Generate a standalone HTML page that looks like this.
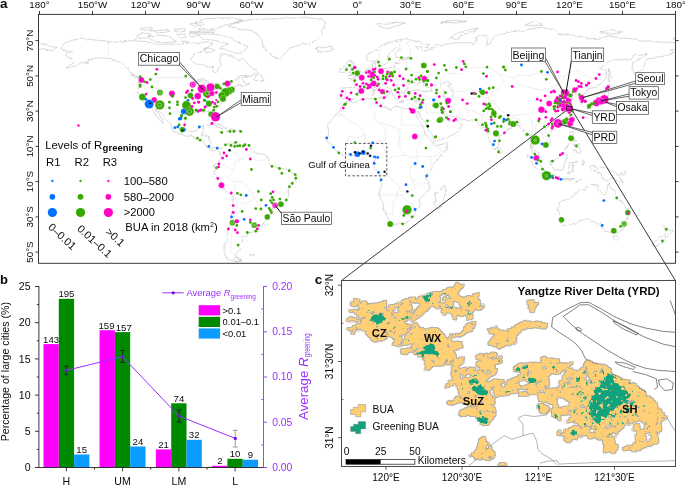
<!DOCTYPE html>
<html lang="en"><head><meta charset="utf-8"><title>Urban greening</title>
<style>html,body{margin:0;padding:0;background:#fff}svg{display:block}text{font-family:"Liberation Sans",Arial,Helvetica,sans-serif;fill:#0a0a0a}</style></head><body>
<svg width="685" height="486" viewBox="0 0 685 486">
<rect width="685" height="486" fill="#fff"/>
<defs><clipPath id="ca"><rect x="38.5" y="14.4" width="637" height="248.9"/></clipPath>
<filter id="rough" x="330" y="270" width="355" height="210" filterUnits="userSpaceOnUse" color-interpolation-filters="sRGB"><feTurbulence type="fractalNoise" baseFrequency="0.11" numOctaves="3" seed="4" result="n"/><feDisplacementMap in="SourceGraphic" in2="n" scale="5" xChannelSelector="R" yChannelSelector="G" result="d0"/><feTurbulence type="fractalNoise" baseFrequency="0.2" numOctaves="2" seed="21" result="hn"/><feColorMatrix in="hn" type="matrix" values="0 0 0 0 0  0 0 0 0 0  0 0 0 0 0  0 18 0 0 -5.5" result="hm"/><feComposite in="d0" in2="hm" operator="in" result="d"/><feMorphology in="d" operator="dilate" radius="1" result="dl"/><feFlood flood-color="#6e6452" flood-opacity="0.5"/><feComposite in2="dl" operator="in" result="edge"/><feMerge><feMergeNode in="edge"/><feMergeNode in="d"/></feMerge></filter>
<filter id="rough2" x="330" y="270" width="355" height="210" filterUnits="userSpaceOnUse" color-interpolation-filters="sRGB"><feTurbulence type="fractalNoise" baseFrequency="0.22" numOctaves="3" seed="9" result="n"/><feDisplacementMap in="SourceGraphic" in2="n" scale="7" xChannelSelector="R" yChannelSelector="G" result="d"/><feTurbulence type="fractalNoise" baseFrequency="0.24" numOctaves="2" seed="2" result="n2"/><feColorMatrix in="n2" type="matrix" values="0 0 0 0 0  0 0 0 0 0  0 0 0 0 0  16 0 0 0 -5.2" result="sp"/><feComposite in="d" in2="sp" operator="in"/></filter>
<filter id="rough3" x="330" y="270" width="355" height="210" filterUnits="userSpaceOnUse" color-interpolation-filters="sRGB"><feTurbulence type="fractalNoise" baseFrequency="0.25" numOctaves="3" seed="5" result="n"/><feDisplacementMap in="SourceGraphic" in2="n" scale="5" xChannelSelector="R" yChannelSelector="G"/></filter>
<filter id="jag" x="30" y="10" width="650" height="260" filterUnits="userSpaceOnUse"><feTurbulence type="fractalNoise" baseFrequency="0.18" numOctaves="3" seed="8" result="n"/><feDisplacementMap in="SourceGraphic" in2="n" scale="3.2" xChannelSelector="R" yChannelSelector="G"/></filter>
<clipPath id="cc"><rect x="341.5" y="280.5" width="334" height="186"/></clipPath></defs>
<g id="panel-a">
<g clip-path="url(#ca)"><g filter="url(#jag)" fill="none" stroke="#b8b8b8" stroke-width="0.55" stroke-linejoin="round">
<path d="M60.7 48.6 L64.2 43.3 L71.3 40.6 L81.9 38.3 L92.5 39.7 L108.4 41.3 L119.0 42.4 L131.4 40.6 L145.5 41.5 L154.3 44.2 L166.7 44.2 L180.8 44.2 L189.7 42.4 L198.5 43.3 L207.3 41.5 L212.6 44.2 L207.3 47.7 L202.0 51.2 L193.2 54.7 L190.5 60.0 L195.0 63.5 L203.8 65.3 L212.6 67.1 L212.6 71.5 L217.0 73.2 L217.9 68.8 L221.5 65.3 L219.7 60.9 L220.6 56.5 L219.7 53.8 L226.8 54.2 L233.8 56.5 L239.1 60.9 L242.7 58.2 L248.8 65.3 L255.9 69.7 L258.6 72.4 L251.5 75.9 L240.9 75.5 L235.6 78.5 L242.7 78.5 L243.5 82.0 L249.7 83.8 L241.8 86.8 L239.1 84.7 L233.8 87.3 L232.9 90.0 L226.8 92.6 L224.1 97.0 L223.2 102.3 L217.9 105.8 L214.4 109.4 L215.8 116.4 L215.3 119.6 L212.6 116.4 L211.2 112.0 L207.3 111.5 L200.3 110.8 L198.5 112.9 L191.4 112.0 L186.1 114.7 L185.2 119.9 L184.7 125.2 L187.9 130.5 L191.4 131.7 L196.7 130.9 L198.0 127.0 L203.8 126.3 L202.9 131.4 L201.1 135.8 L209.1 136.2 L210.3 142.8 L209.6 145.5 L212.6 148.1 L217.0 147.3 L220.9 149.0 L225.0 145.0 L230.3 142.8 L233.8 143.2 L237.4 145.1 L244.4 145.5 L248.0 145.5 L251.5 149.0 L256.8 153.4 L263.9 154.3 L267.4 156.9 L269.2 162.2 L272.7 165.8 L279.8 168.4 L286.8 169.3 L292.1 172.8 L295.7 175.5 L295.7 179.9 L291.2 185.2 L288.6 189.6 L288.6 195.7 L285.1 202.8 L279.8 204.5 L272.7 208.9 L271.8 213.3 L267.4 218.6 L263.0 223.9 L258.6 225.7 L255.9 229.2 L255.0 231.9 L248.0 232.7 L247.1 236.3 L242.7 236.3 L242.7 240.7 L238.2 245.1 L240.9 248.6 L235.6 253.9 L236.5 257.4 L240.9 260.9 L233.8 261.8 L226.8 257.4 L224.1 252.1 L224.1 246.0 L228.5 238.0 L227.6 230.1 L231.2 222.2 L231.2 215.1 L232.9 206.3 L233.3 196.6 L228.5 193.1 L222.7 188.7 L220.6 183.4 L217.0 177.2 L213.9 172.8 L216.2 169.3 L214.4 165.8 L217.0 162.2 L218.8 159.6 L220.9 156.9 L220.6 151.7 L217.0 148.7 L215.3 151.1 L210.9 149.4 L206.4 146.4 L202.9 141.1 L195.8 139.3 L191.4 135.8 L186.1 136.2 L179.1 133.5 L172.0 129.6 L171.1 125.2 L166.7 119.9 L163.2 115.5 L158.7 111.1 L154.9 108.5 L157.9 112.9 L161.4 118.2 L163.7 123.5 L159.6 119.9 L155.2 114.7 L152.6 110.2 L150.4 106.4 L144.6 103.2 L142.0 98.8 L138.4 93.0 L138.4 88.2 L138.4 82.0 L140.2 78.9 L135.8 75.9 L131.4 72.4 L126.9 67.9 L122.5 63.5 L116.3 60.9 L110.2 58.6 L101.3 57.7 L94.3 58.2 L89.0 60.0 L85.4 62.7 L78.4 64.4 L71.3 67.1 L66.0 67.9 L74.8 61.8 L71.3 59.1 L66.0 55.6 L66.9 53.0 L73.1 51.2 L64.2 49.8 L60.7 48.6"/>
<path d="M228.5 25.6 L237.4 22.1 L251.5 19.5 L278.0 18.6 L304.5 17.2 L322.2 19.5 L325.7 23.9 L322.2 30.1 L322.2 35.3 L316.9 39.7 L309.8 43.3 L299.2 45.0 L290.4 48.0 L285.1 53.0 L281.5 58.2 L272.7 56.5 L267.4 51.2 L263.0 45.9 L262.1 40.6 L258.6 35.3 L251.5 30.4 L237.4 29.2 L228.5 25.6"/>
<path d="M216.2 34.5 L225.0 36.2 L233.8 39.7 L239.1 43.3 L248.0 46.8 L242.7 53.0 L233.8 53.0 L226.8 50.3 L219.7 48.6 L228.5 44.2 L216.2 40.6 L202.0 38.9 L198.5 34.5 L207.3 33.9 L216.2 34.5"/>
<path d="M149.0 36.2 L163.2 35.3 L172.0 38.0 L177.3 41.5 L166.7 42.7 L154.3 41.5 L149.0 38.9 L149.0 36.2"/>
<path d="M198.5 29.2 L216.2 29.5 L223.2 25.6 L242.7 20.4 L233.8 17.7 L207.3 18.6 L195.0 22.1 L202.0 26.5 L198.5 29.2"/>
<path d="M136.7 37.1 L145.5 38.3 L150.8 34.5 L142.0 32.7 L136.7 37.1"/>
<path d="M189.7 31.8 L212.6 30.9 L214.4 32.5 L195.0 32.7 L189.7 31.8"/>
<path d="M150.8 30.9 L166.7 30.1 L170.2 31.8 L159.6 32.7 L150.8 30.9"/>
<path d="M253.3 79.9 L258.6 73.2 L263.9 79.4 L263.0 81.7 L258.6 81.2 L253.3 79.9"/>
<path d="M341.6 98.8 L340.7 95.3 L342.0 90.9 L341.2 88.2 L348.7 87.3 L354.3 87.5 L355.4 82.9 L352.2 80.3 L349.2 78.7 L354.8 78.2 L354.3 76.4 L357.9 76.8 L360.3 74.5 L363.7 73.4 L365.5 70.6 L369.9 69.7 L372.5 68.8 L372.5 63.5 L376.1 62.3 L375.2 66.2 L376.9 68.8 L382.2 68.8 L390.2 67.6 L394.6 67.1 L394.6 63.5 L399.9 63.2 L399.0 60.0 L407.0 59.1 L410.5 58.2 L401.7 57.9 L396.4 57.4 L395.1 53.8 L400.8 49.4 L396.4 48.2 L389.3 53.0 L387.5 56.5 L390.2 58.2 L386.7 63.5 L383.1 65.3 L380.5 66.2 L378.7 63.5 L376.9 60.0 L371.6 61.8 L367.2 60.0 L366.3 55.6 L369.9 53.0 L376.9 50.3 L382.2 45.0 L388.4 42.4 L394.6 40.6 L403.4 38.9 L412.3 40.1 L415.8 41.9 L429.9 45.0 L428.2 47.7 L419.3 46.8 L415.8 46.8 L419.3 50.3 L422.9 51.2 L428.2 50.0 L435.2 47.1 L435.2 43.3 L440.5 45.9 L451.1 43.3 L463.5 42.4 L474.1 43.3 L477.6 40.6 L475.9 37.1 L484.7 35.3 L488.2 38.9 L486.5 44.2 L490.0 44.2 L493.5 37.1 L500.6 34.5 L511.2 31.8 L525.3 30.1 L541.2 27.2 L555.4 30.1 L557.1 33.6 L573.0 35.3 L583.6 37.1 L587.2 38.9 L601.3 38.0 L608.4 35.9 L622.5 38.0 L636.6 39.2 L640.2 41.2 L654.3 40.6 L659.6 42.4 L672.0 42.0 L675.5 43.3"/>
<path d="M39.5 43.3 L48.3 45.9 L57.2 47.7 L51.9 50.7 L43.0 48.6 L39.5 49.4"/>
<path d="M675.5 49.4 L670.2 50.0 L673.7 53.8 L664.9 55.3 L657.8 58.2 L647.2 58.6 L645.5 62.7 L643.7 67.1 L640.2 70.6 L634.3 74.1 L632.2 67.1 L632.6 62.7 L641.9 58.2 L647.2 53.8 L640.2 55.3 L633.1 55.6 L631.3 60.0 L624.3 60.0 L613.7 59.5 L606.6 62.7 L599.5 68.8 L604.8 69.7 L606.6 72.4 L605.7 78.5 L601.3 82.9 L596.0 87.3 L590.7 88.2 L587.2 89.1 L586.3 92.6 L582.8 94.4 L585.9 98.8 L585.4 102.0 L581.0 103.4 L580.5 98.8 L578.3 97.0 L578.3 94.0 L573.0 92.6 L571.8 95.3 L566.0 95.3 L567.7 98.3 L573.9 98.4 L568.6 102.3 L570.4 105.8 L573.0 109.4 L572.2 113.8 L568.6 119.1 L564.2 122.6 L558.9 124.7 L552.7 126.6 L549.2 125.8 L545.7 128.8 L544.2 130.9 L549.5 136.7 L550.6 142.8 L546.5 145.5 L543.0 148.7 L543.0 145.8 L538.6 142.8 L535.1 140.2 L533.3 144.6 L532.9 148.1 L537.7 153.4 L540.4 156.9 L541.6 161.5 L536.8 159.2 L534.7 153.4 L531.2 149.0 L531.7 142.8 L529.8 134.9 L526.2 136.2 L524.1 131.4 L520.0 126.1 L517.4 124.3 L513.0 125.8 L510.3 128.8 L505.9 131.7 L499.4 136.7 L498.8 141.1 L498.5 145.8 L494.4 149.7 L491.8 146.4 L489.1 139.3 L486.5 133.2 L486.1 127.0 L481.2 127.3 L479.4 124.7 L475.9 120.3 L467.0 119.6 L459.1 118.7 L457.3 116.4 L452.9 117.1 L447.6 114.7 L445.8 111.1 L442.3 111.1 L445.8 117.3 L448.5 120.8 L452.9 121.3 L456.4 118.2 L457.3 120.8 L461.7 124.3 L459.1 130.5 L454.7 134.0 L449.4 135.8 L442.3 139.3 L434.4 141.6 L432.6 135.8 L428.2 128.8 L425.5 123.5 L419.3 114.7 L419.0 112.0 L415.8 114.7 L420.2 121.7 L422.9 127.0 L424.6 132.3 L428.2 137.6 L433.5 142.8 L436.1 145.5 L447.6 143.2 L445.8 149.9 L440.5 156.9 L431.7 166.6 L428.2 172.8 L426.4 178.1 L429.1 183.4 L429.1 190.4 L422.9 195.7 L419.3 199.2 L420.2 206.3 L415.4 209.8 L414.9 214.2 L410.5 219.5 L405.2 223.4 L398.1 223.9 L392.8 225.3 L389.8 223.9 L389.3 220.4 L384.0 211.6 L383.1 202.8 L378.7 194.8 L381.4 186.0 L380.5 179.0 L378.7 172.8 L374.3 167.5 L374.3 162.2 L374.8 157.8 L372.5 156.1 L367.2 156.4 L364.6 152.9 L359.3 153.4 L354.0 155.5 L348.7 154.8 L344.2 156.2 L339.8 153.4 L334.5 149.0 L331.0 144.6 L327.5 140.2 L326.6 138.1 L328.3 134.9 L328.7 129.6 L327.5 127.0 L331.0 121.7 L334.5 115.5 L339.8 112.0 L340.4 108.5 L345.1 104.4 L346.9 100.9 L354.0 102.0 L362.8 99.1 L369.9 98.8 L375.2 98.4 L376.9 102.3 L375.5 104.1 L378.7 106.2 L384.5 107.1 L391.1 110.6 L392.8 107.6 L398.1 106.4 L405.2 108.8 L410.5 108.8 L414.6 109.0 L418.1 108.8 L419.3 105.8 L421.1 100.6 L421.1 99.1 L415.8 100.2 L411.4 99.7 L407.0 99.3 L404.3 96.1 L404.0 93.5 L408.7 91.7 L414.0 90.3 L419.3 90.0 L423.8 91.7 L430.8 90.9 L429.9 88.2 L424.6 85.6 L422.9 84.2 L426.4 81.2 L419.3 82.9 L416.7 85.6 L414.0 82.4 L410.5 82.9 L407.9 86.5 L407.0 90.0 L403.4 92.1 L399.0 92.6 L399.9 97.0 L398.1 99.7 L395.5 98.8 L392.8 94.4 L392.0 90.9 L389.3 88.6 L384.0 85.0 L381.7 83.6 L379.2 84.7 L379.6 86.5 L382.2 90.0 L385.8 90.5 L390.2 93.1 L387.5 95.3 L385.8 97.0 L385.2 93.5 L381.4 91.4 L376.9 89.1 L375.2 86.5 L371.6 86.1 L368.1 88.0 L363.7 87.7 L362.8 90.0 L358.4 92.6 L356.6 96.1 L354.0 99.1 L348.7 100.2 L346.0 98.8 L341.6 98.8"/>
<path d="M440.5 84.7 L445.0 82.0 L448.5 81.2 L451.1 84.7 L447.6 85.6 L451.1 90.0 L452.9 93.5 L452.0 98.8 L446.7 98.8 L444.1 96.1 L445.0 92.6 L441.4 88.2 L440.5 84.7"/>
<path d="M347.8 75.9 L352.2 75.0 L359.3 74.1 L360.3 70.9 L357.5 69.7 L354.8 67.1 L354.0 65.3 L354.3 62.7 L350.4 62.3 L352.2 60.7 L348.7 60.7 L346.5 63.5 L348.7 66.2 L352.2 67.4 L352.2 69.7 L349.5 70.2 L350.1 71.8 L348.3 72.7 L352.2 73.4 L347.8 75.9"/>
<path d="M339.8 72.4 L346.4 72.0 L346.9 69.7 L347.8 67.9 L344.2 66.5 L339.8 68.8 L339.8 72.4"/>
<path d="M315.1 48.6 L318.6 47.0 L325.7 47.3 L331.9 47.7 L333.6 49.4 L329.2 51.2 L323.9 52.3 L317.7 51.4 L318.6 49.4 L315.1 48.6"/>
<path d="M376.9 24.8 L385.8 23.0 L396.4 22.5 L405.2 23.0 L394.6 26.2 L387.5 28.8 L382.2 27.4 L376.9 24.8"/>
<path d="M449.4 38.9 L454.7 34.5 L463.5 30.9 L477.6 28.3 L474.1 30.9 L460.0 35.3 L458.2 39.4 L449.4 38.9"/>
<path d="M525.3 24.8 L534.2 21.2 L543.0 24.8 L534.2 26.5 L525.3 24.8"/>
<path d="M599.5 31.8 L613.7 30.1 L622.5 31.8 L610.1 34.5 L599.5 31.8"/>
<path d="M608.4 68.3 L610.1 72.4 L611.0 76.8 L609.6 82.0 L608.4 79.4 L608.4 74.1 L608.4 68.3"/>
<path d="M587.2 105.8 L588.9 108.8 L590.7 105.0 L596.0 104.6 L599.5 103.0 L603.1 102.3 L606.3 100.6 L606.6 96.1 L608.4 93.5 L607.5 91.0 L604.8 91.7 L604.5 95.3 L602.2 97.9 L599.2 98.8 L597.8 100.9 L592.5 101.4 L588.9 103.5 L587.2 105.8"/>
<path d="M604.8 90.0 L607.5 88.2 L607.8 84.0 L612.8 86.5 L614.6 87.7 L610.1 90.0 L606.6 89.1 L604.8 90.0"/>
<path d="M569.9 123.5 L571.3 119.6 L573.0 119.9 L572.2 123.5 L570.9 125.2 L569.9 123.5"/>
<path d="M549.5 130.2 L552.7 128.8 L553.6 129.6 L551.0 131.7 L549.5 130.2"/>
<path d="M569.5 135.8 L570.4 131.4 L573.6 131.7 L573.0 135.8 L576.6 141.1 L573.0 139.7 L570.7 138.4 L569.5 135.8"/>
<path d="M573.0 151.7 L575.7 148.7 L579.2 146.9 L581.0 151.7 L579.2 153.8 L576.6 151.7 L573.0 151.7"/>
<path d="M550.1 161.4 L553.6 160.8 L557.1 158.7 L560.7 155.2 L564.2 151.7 L567.7 155.2 L566.0 160.5 L565.1 164.0 L562.4 170.2 L558.9 170.2 L554.5 169.3 L551.8 166.6 L550.1 161.4"/>
<path d="M525.9 154.3 L530.6 156.9 L535.1 160.5 L540.4 165.8 L544.8 170.2 L544.4 174.2 L541.2 173.7 L535.9 168.4 L531.5 162.2 L528.0 157.8 L525.9 154.3"/>
<path d="M543.4 175.5 L548.3 175.5 L553.6 175.6 L559.8 177.2 L559.8 179.0 L551.8 178.1 L545.7 176.9 L543.4 175.5"/>
<path d="M568.6 173.7 L568.6 168.4 L569.5 162.6 L574.8 162.2 L578.3 161.4 L573.9 163.5 L571.3 165.8 L574.8 165.8 L572.2 167.5 L573.9 171.9 L571.3 171.1 L570.0 173.7 L568.6 173.7"/>
<path d="M588.9 165.8 L594.2 165.4 L596.0 169.8 L601.3 167.0 L606.6 168.6 L613.7 171.9 L618.1 174.6 L623.4 182.5 L617.2 181.3 L611.9 177.6 L608.4 180.2 L602.2 178.6 L601.3 173.7 L594.2 171.1 L591.6 168.8 L588.9 165.8"/>
<path d="M558.9 202.8 L558.0 209.8 L560.7 218.6 L560.7 224.5 L566.0 225.7 L575.7 223.9 L580.1 220.9 L588.9 219.5 L594.2 221.8 L597.8 225.7 L601.0 222.2 L601.3 226.9 L604.8 231.0 L611.0 232.4 L616.3 232.7 L622.5 229.7 L624.8 223.0 L627.8 216.9 L628.3 209.8 L624.3 205.4 L620.7 200.1 L616.0 197.5 L614.6 190.4 L611.0 188.7 L609.3 183.0 L607.5 186.9 L606.6 194.0 L604.0 194.8 L597.4 190.4 L598.7 185.2 L591.6 184.3 L587.2 186.9 L585.4 190.4 L580.1 188.7 L575.7 194.0 L573.0 196.6 L567.7 199.2 L562.4 200.7 L558.9 202.8"/>
<path d="M613.1 235.7 L619.3 235.9 L619.0 239.8 L615.4 240.8 L613.7 238.0 L613.1 235.7"/>
<path d="M662.6 224.8 L666.7 228.3 L672.9 230.4 L670.2 233.6 L667.2 237.3 L664.9 233.3 L666.3 230.1 L662.6 224.8"/>
<path d="M662.6 235.4 L665.4 237.1 L662.8 241.0 L659.6 244.2 L655.2 246.1 L651.7 244.5 L655.2 241.6 L659.6 238.0 L662.6 235.4"/>
<path d="M444.6 185.2 L446.4 191.3 L444.1 197.5 L441.4 207.2 L437.0 208.9 L434.4 204.5 L435.8 199.2 L435.2 194.0 L439.7 191.3 L444.6 185.2"/>
<path d="M498.8 146.7 L502.0 150.8 L500.6 153.4 L498.8 153.1 L498.5 149.9 L498.8 146.7"/>
<path d="M207.3 125.2 L212.6 123.1 L219.7 124.7 L226.4 128.4 L220.6 128.9 L219.7 127.0 L212.6 124.7 L207.3 125.2"/>
<path d="M226.1 131.4 L228.9 128.9 L234.7 129.6 L236.7 131.2 L232.1 132.3 L226.1 131.4"/>
<path d="M249.7 254.8 L255.0 254.6 L253.3 256.2 L249.7 255.6 L249.7 254.8"/>
<path d="M379.6 97.0 L384.9 96.7 L384.0 99.3 L379.6 97.9 L379.6 97.0"/>
<path d="M372.2 91.7 L374.6 91.7 L374.5 94.9 L372.5 95.3 L372.2 91.7"/>
<path d="M591.1 104.3 L595.1 103.7 L594.6 105.3 L592.1 106.2 L591.1 104.3"/>
<path d="M189.7 23.9 L202.0 22.1 L203.8 24.8 L195.0 26.0 L189.7 23.9"/>
<path d="M188.8 33.6 L197.6 33.6 L198.5 35.9 L190.5 37.1 L188.8 33.6"/>
<path d="M177.3 34.5 L185.2 33.9 L186.1 37.1 L179.9 38.0 L177.3 34.5"/>
<path d="M173.8 29.2 L184.4 28.8 L185.2 31.5 L177.3 31.8 L173.8 29.2"/>
<path d="M203.8 48.6 L209.1 48.0 L215.3 50.3 L212.6 52.1 L205.6 51.7 L203.8 48.6"/>
<path d="M181.7 41.5 L187.9 41.0 L188.8 43.1 L183.5 43.3 L181.7 41.5"/>
<path d="M140.2 28.3 L150.8 27.4 L153.4 29.2 L145.5 30.4 L140.2 28.3"/>
<path d="M195.0 81.7 L202.0 78.5 L207.3 80.3 L208.2 82.0 L203.8 82.0 L198.5 81.7 L195.0 81.7"/>
<path d="M202.6 90.5 L205.0 89.1 L206.4 84.7 L204.7 83.3 L202.4 86.5 L202.6 90.5"/>
<path d="M208.2 82.9 L214.4 82.9 L216.2 85.6 L213.2 87.9 L210.0 86.5 L208.2 82.9"/>
<path d="M210.3 90.5 L217.9 88.6 L216.2 89.6 L210.3 90.5"/>
<path d="M84.5 62.7 L88.4 61.8 L88.1 63.5 L84.5 62.7"/>
<path d="M130.8 74.6 L136.7 75.9 L139.3 78.5 L135.8 78.0 L130.8 74.6"/>
<path d="M243.5 76.1 L248.3 77.1 L244.4 77.3 L243.5 76.1"/>
<path d="M587.2 104.4 L590.4 104.8 L589.8 108.5 L587.7 109.0 L586.8 106.2 L587.2 104.4"/>
<path d="M399.0 101.4 L404.0 102.0 L400.8 102.3 L399.0 101.4"/>
<path d="M414.6 102.3 L418.5 101.3 L417.2 102.8 L414.6 102.3"/>
<path d="M372.7 88.4 L374.3 88.4 L373.9 91.0 L372.9 90.3 L372.7 88.4"/>
<path d="M219.2 131.6 L222.7 131.9 L221.1 132.6 L219.2 131.6"/>
<path d="M238.8 131.4 L241.4 131.6 L240.0 132.3 L238.8 131.4"/>
<path d="M236.3 256.9 L242.3 260.4 L237.4 261.3 L232.9 259.2 L236.3 256.9"/>
<path d="M575.7 182.2 L581.9 178.8 L578.3 180.4 L575.7 182.2"/>
<path d="M562.4 178.8 L567.7 178.6 L574.5 178.6 L569.5 179.7 L563.9 179.7 L562.4 178.8"/>
<path d="M582.8 160.5 L584.9 162.2 L583.6 165.4 L582.9 163.1 L582.8 160.5"/>
<path d="M564.6 149.2 L568.6 144.6 L566.9 147.8 L564.6 149.2"/>
<path d="M573.0 143.2 L576.6 144.3 L579.2 144.6 L578.0 146.4 L574.8 147.3 L573.9 145.3 L573.0 143.2"/>
<path d="M619.5 173.7 L626.0 171.4 L625.2 174.6 L620.7 174.9 L619.5 173.7"/>
<path d="M672.9 38.0 L675.5 38.5 L673.7 39.2 L672.9 38.0"/>
<path d="M440.5 22.1 L454.7 20.4 L467.0 21.2 L456.4 23.0 L440.5 22.1"/>
</g></g>
<g clip-path="url(#ca)" fill="none" stroke="#dcdcdc" stroke-width="0.45" stroke-linejoin="round">
<path d="M140.2 77.6 L189.7 77.6 L200.3 79.4 L208.2 82.0 L211.7 84.7 L211.7 89.1 L217.9 87.7 L222.3 86.5 L225.0 84.7 L231.2 84.7 L235.2 80.5 L237.7 81.2 L239.1 84.7"/>
<path d="M150.6 106.7 L161.4 108.8 L166.7 108.5 L169.3 108.0 L173.8 112.0 L179.1 111.7 L181.7 115.5 L185.8 118.4"/>
<path d="M108.4 41.3 L108.4 57.7"/>
<path d="M255.9 216.9 L262.1 208.9 L255.0 199.2 L251.5 192.2 L242.7 181.6 L233.8 181.6 L227.6 177.2 L233.8 171.1 L234.7 162.2 L239.1 160.5 L244.4 156.9 L250.6 155.2 L256.8 160.5 L265.6 159.6 L266.5 156.9"/>
<path d="M234.7 194.8 L237.4 204.5 L233.8 216.9 L232.9 227.4 L231.2 238.0 L230.3 252.1 L236.5 256.5"/>
<path d="M234.7 194.8 L235.6 183.4"/>
<path d="M255.0 199.2 L247.1 202.8 L239.1 204.2"/>
<path d="M215.8 170.2 L224.1 164.4 L233.8 171.1"/>
<path d="M230.3 143.7 L229.4 150.8 L238.2 153.4 L239.1 160.5"/>
<path d="M342.1 115.2 L349.0 119.9 L359.6 127.0 L363.3 130.5 L364.9 134.9 L357.5 137.6 L347.8 136.7 L347.8 145.8"/>
<path d="M378.7 122.6 L384.0 123.5 L399.9 129.6 L399.9 136.7 L397.3 144.6"/>
<path d="M401.7 108.5 L401.7 125.2 L422.9 125.2"/>
<path d="M374.3 110.8 L375.2 120.8 L378.7 122.6 L384.9 127.0 L385.8 139.3 L381.4 140.2 L382.2 143.7 L384.9 150.8 L385.8 160.5"/>
<path d="M334.5 115.2 L342.1 115.2 L342.1 112.9"/>
<path d="M364.9 134.9 L364.6 142.8 L362.4 152.9"/>
<path d="M381.4 140.2 L364.6 142.8"/>
<path d="M385.8 160.5 L389.3 157.8 L397.3 156.1 L406.1 155.2 L412.3 157.8 L417.6 156.9 L421.1 156.1 L429.9 156.9 L431.7 166.6"/>
<path d="M399.9 136.7 L399.9 148.1 L406.1 155.2"/>
<path d="M417.6 156.9 L417.6 165.8 L410.5 166.1 L409.6 171.9 L411.4 178.6 L415.8 180.7 L418.5 184.3 L429.1 182.9"/>
<path d="M378.7 172.8 L385.8 174.6 L396.4 183.4 L399.9 186.9 L396.4 194.8 L401.7 195.4 L415.8 188.7 L411.4 178.6"/>
<path d="M378.7 194.8 L398.1 194.8 L392.8 202.8 L392.8 214.2 L386.7 214.2"/>
<path d="M401.7 195.4 L408.7 202.8 L413.2 203.5 L414.0 209.8"/>
<path d="M421.1 125.2 L425.5 132.3 L422.0 138.4 L415.8 149.9 L417.6 156.9"/>
<path d="M433.5 142.8 L431.7 144.6 L442.3 149.9 L437.0 155.2 L429.9 156.9"/>
<path d="M419.3 105.8 L426.4 105.8 L426.4 112.9 L440.5 112.9 L442.3 111.1"/>
<path d="M421.1 99.1 L431.7 98.4 L436.1 98.8 L436.1 94.0 L434.4 91.7 L430.8 90.9"/>
<path d="M436.1 98.8 L438.8 102.3 L438.8 105.8 L442.3 111.1"/>
<path d="M436.1 94.0 L442.3 94.4 L444.1 96.1"/>
<path d="M452.0 98.8 L458.2 97.0 L465.3 99.7 L465.3 109.4 L468.8 112.0 L466.2 119.6"/>
<path d="M465.3 99.7 L474.1 98.3 L482.9 97.0 L489.1 98.8 L493.5 101.4 L497.1 106.7 L500.6 110.8 L507.7 114.3 L513.0 115.0 L520.0 115.0 L528.9 114.3 L531.5 121.7 L535.9 126.1 L537.7 124.3 L543.0 123.5 L548.3 125.9"/>
<path d="M465.3 109.4 L474.1 111.5 L481.2 114.7 L482.9 120.8 L478.5 122.6"/>
<path d="M489.1 98.8 L488.2 105.8 L490.0 107.6 L486.5 114.7 L481.2 114.7"/>
<path d="M513.0 115.0 L513.0 118.2 L515.6 118.2 L520.0 119.9 L520.0 126.1"/>
<path d="M531.5 121.7 L533.3 128.8 L530.6 134.0 L532.4 142.8"/>
<path d="M535.9 126.1 L535.1 133.2 L541.2 132.3 L543.9 138.4 L538.6 142.8"/>
<path d="M541.2 132.3 L547.4 138.4 L547.4 143.7 L543.0 145.8"/>
<path d="M407.0 59.1 L406.1 65.3 L412.3 72.4 L417.6 72.4 L428.2 76.8 L428.2 80.3 L426.4 81.2"/>
<path d="M440.5 84.7 L440.5 79.4 L447.6 73.2 L461.7 74.1 L466.2 68.8 L479.4 67.1 L491.8 68.8 L498.8 74.1 L512.1 77.6 L520.0 75.0 L530.6 75.9 L537.7 73.2 L546.5 75.9 L557.1 75.9 L564.2 76.6 L569.5 71.5 L580.1 70.6 L588.1 77.6 L596.0 78.9 L588.9 84.7 L588.9 88.2 L587.2 89.1"/>
<path d="M512.1 77.6 L518.3 83.8 L525.3 86.5 L541.2 90.0 L553.6 87.3 L562.4 82.0 L564.2 76.6"/>
<path d="M448.5 81.2 L454.7 91.2 L465.3 91.7 L474.1 90.0 L481.2 91.7 L487.4 94.4 L489.1 98.8"/>
<path d="M498.8 74.1 L504.1 81.2 L498.8 89.1 L488.2 93.0 L487.4 94.4"/>
<path d="M354.3 87.5 L362.8 89.3"/>
<path d="M369.9 69.7 L368.1 74.1 L368.1 76.8 L372.0 77.6 L370.9 80.1 L368.1 82.6 L370.8 86.5"/>
<path d="M382.2 68.8 L384.0 74.1 L379.1 75.3 L381.9 78.2 L387.5 78.2 L397.3 77.6 L399.9 74.5 L399.0 69.2 L394.6 67.1"/>
<path d="M381.9 78.2 L375.2 80.3 L370.9 80.1"/>
<path d="M397.3 77.6 L396.4 79.4 L404.3 79.0 L407.3 83.8 L410.5 82.9"/>
<path d="M387.5 78.2 L386.7 81.5 L381.7 82.0 L381.7 83.6"/>
<path d="M396.4 79.4 L393.4 82.6 L397.3 85.4 L397.3 91.4 L404.0 90.5 L407.0 90.0"/>
<path d="M342.0 90.2 L346.0 90.3 L345.1 95.3 L344.4 98.4"/>
<path d="M412.3 40.1 L407.0 42.4 L410.5 49.4 L410.5 54.7 L407.0 57.4"/>
<path d="M394.6 40.6 L399.9 44.2 L399.9 47.7"/>
<path d="M377.8 60.0 L379.6 56.5 L378.7 52.1 L385.8 44.2 L392.8 42.4"/>
</g>
<rect x="345.5" y="143.4" width="41.3" height="32.4" fill="none" stroke="#333" stroke-width="0.8" stroke-dasharray="2.6 1.8"/>
<g stroke="#222" stroke-width="0.9" fill="none">
<line x1="566.7" y1="110.2" x2="341.6" y2="280.4"/>
<line x1="572.2" y1="110.2" x2="675.3" y2="280.4"/>
</g>
<g id="dots">
<circle cx="156.9" cy="69.3" r="1.40" fill="#ff00c5"/>
<circle cx="155.8" cy="74.1" r="1.40" fill="#38a800"/>
<circle cx="185.8" cy="76.1" r="1.40" fill="#38a800"/>
<circle cx="141.4" cy="79.9" r="2.90" fill="#ff00c5" stroke="#fff" stroke-width="0.35" stroke-opacity="0.75"/>
<circle cx="140.2" cy="76.7" r="1.40" fill="#38a800"/>
<circle cx="150.3" cy="79.6" r="1.40" fill="#38a800"/>
<circle cx="144.5" cy="81.8" r="1.40" fill="#38a800"/>
<circle cx="147.0" cy="82.5" r="1.40" fill="#ff00c5"/>
<circle cx="140.2" cy="84.8" r="1.40" fill="#38a800"/>
<circle cx="140.2" cy="86.4" r="1.40" fill="#38a800"/>
<circle cx="152.0" cy="86.9" r="1.40" fill="#38a800"/>
<circle cx="192.8" cy="84.6" r="3.10" fill="#ff00c5" stroke="#fff" stroke-width="0.35" stroke-opacity="0.75"/>
<circle cx="159.9" cy="92.5" r="3.10" fill="#38a800" stroke="#fff" stroke-width="0.35" stroke-opacity="0.75"/>
<circle cx="171.9" cy="93.5" r="3.10" fill="#ff00c5" stroke="#fff" stroke-width="0.35" stroke-opacity="0.75"/>
<circle cx="172.5" cy="96.0" r="1.75" fill="#38a800"/>
<circle cx="146.1" cy="94.1" r="1.40" fill="#ff00c5"/>
<circle cx="142.4" cy="97.0" r="3.50" fill="#38a800" stroke="#fff" stroke-width="0.35" stroke-opacity="0.75"/>
<circle cx="154.2" cy="100.0" r="2.90" fill="#ff00c5" stroke="#fff" stroke-width="0.35" stroke-opacity="0.75"/>
<circle cx="145.9" cy="99.3" r="1.40" fill="#0070ff"/>
<circle cx="149.2" cy="104.0" r="4.60" fill="#0070ff" stroke="#fff" stroke-width="0.35" stroke-opacity="0.75"/>
<circle cx="159.8" cy="104.9" r="4.75" fill="#38a800" stroke="#fff" stroke-width="0.35" stroke-opacity="0.75"/>
<circle cx="169.4" cy="102.2" r="1.40" fill="#38a800"/>
<circle cx="177.5" cy="101.9" r="1.40" fill="#38a800"/>
<circle cx="177.5" cy="104.7" r="1.40" fill="#38a800"/>
<circle cx="169.4" cy="107.8" r="1.40" fill="#38a800"/>
<circle cx="170.0" cy="113.6" r="1.40" fill="#38a800"/>
<circle cx="186.4" cy="92.5" r="1.40" fill="#ff00c5"/>
<circle cx="187.7" cy="91.0" r="1.40" fill="#ff00c5"/>
<circle cx="192.0" cy="90.4" r="1.40" fill="#38a800"/>
<circle cx="190.4" cy="95.4" r="2.90" fill="#38a800" stroke="#fff" stroke-width="0.35" stroke-opacity="0.75"/>
<circle cx="185.5" cy="97.6" r="1.40" fill="#38a800"/>
<circle cx="188.0" cy="100.3" r="1.40" fill="#0070ff"/>
<circle cx="192.6" cy="98.5" r="1.40" fill="#ff00c5"/>
<circle cx="197.9" cy="95.7" r="3.20" fill="#ff00c5" stroke="#fff" stroke-width="0.35" stroke-opacity="0.75"/>
<circle cx="194.3" cy="102.8" r="1.40" fill="#ff00c5"/>
<circle cx="198.6" cy="102.2" r="1.40" fill="#ff00c5"/>
<circle cx="186.4" cy="105.3" r="4.45" fill="#38a800" stroke="#fff" stroke-width="0.35" stroke-opacity="0.75"/>
<circle cx="189.5" cy="111.5" r="4.45" fill="#38a800" stroke="#fff" stroke-width="0.35" stroke-opacity="0.75"/>
<circle cx="183.6" cy="111.5" r="2.90" fill="#0070ff" stroke="#fff" stroke-width="0.35" stroke-opacity="0.75"/>
<circle cx="192.0" cy="106.5" r="1.40" fill="#ff00c5"/>
<circle cx="204.4" cy="100.3" r="1.40" fill="#38a800"/>
<circle cx="205.0" cy="107.1" r="1.40" fill="#ff00c5"/>
<circle cx="200.7" cy="110.2" r="1.40" fill="#ff00c5"/>
<circle cx="198.2" cy="111.1" r="1.40" fill="#ff00c5"/>
<circle cx="196.4" cy="110.2" r="1.40" fill="#38a800"/>
<circle cx="203.6" cy="110.2" r="1.40" fill="#38a800"/>
<circle cx="180.2" cy="118.6" r="1.80" fill="#0070ff"/>
<circle cx="185.5" cy="118.3" r="1.40" fill="#38a800"/>
<circle cx="181.5" cy="115.8" r="1.40" fill="#38a800"/>
<circle cx="206.5" cy="101.6" r="1.00" fill="#0070ff"/>
<circle cx="150.2" cy="103.2" r="1.00" fill="#000a28"/>
<circle cx="227.5" cy="83.6" r="3.10" fill="#ff00c5" stroke="#fff" stroke-width="0.35" stroke-opacity="0.75"/>
<circle cx="231.4" cy="81.3" r="1.40" fill="#38a800"/>
<circle cx="223.8" cy="83.8" r="1.40" fill="#38a800"/>
<circle cx="217.1" cy="86.3" r="2.90" fill="#38a800" stroke="#fff" stroke-width="0.35" stroke-opacity="0.75"/>
<circle cx="220.4" cy="88.2" r="1.40" fill="#38a800"/>
<circle cx="207.4" cy="93.3" r="4.45" fill="#38a800" stroke="#fff" stroke-width="0.35" stroke-opacity="0.75"/>
<circle cx="211.7" cy="93.3" r="2.90" fill="#ff00c5" stroke="#fff" stroke-width="0.35" stroke-opacity="0.75"/>
<circle cx="210.5" cy="87.3" r="4.10" fill="#ff00c5" stroke="#fff" stroke-width="0.35" stroke-opacity="0.75"/>
<circle cx="201.8" cy="88.8" r="4.30" fill="#ff00c5" stroke="#fff" stroke-width="0.35" stroke-opacity="0.75"/>
<circle cx="231.6" cy="89.8" r="3.20" fill="#38a800" stroke="#fff" stroke-width="0.35" stroke-opacity="0.75"/>
<circle cx="228.5" cy="91.0" r="3.85" fill="#38a800" stroke="#fff" stroke-width="0.35" stroke-opacity="0.75"/>
<circle cx="225.4" cy="92.5" r="4.45" fill="#38a800" stroke="#fff" stroke-width="0.35" stroke-opacity="0.75"/>
<circle cx="221.7" cy="95.4" r="3.50" fill="#38a800" stroke="#fff" stroke-width="0.35" stroke-opacity="0.75"/>
<circle cx="222.9" cy="98.7" r="3.20" fill="#38a800" stroke="#fff" stroke-width="0.35" stroke-opacity="0.75"/>
<circle cx="216.3" cy="92.5" r="1.40" fill="#ff00c5"/>
<circle cx="197.7" cy="96.2" r="3.20" fill="#ff00c5" stroke="#fff" stroke-width="0.35" stroke-opacity="0.75"/>
<circle cx="208.0" cy="96.9" r="1.40" fill="#ff00c5"/>
<circle cx="204.3" cy="100.1" r="1.40" fill="#38a800"/>
<circle cx="208.9" cy="103.7" r="3.10" fill="#38a800" stroke="#fff" stroke-width="0.35" stroke-opacity="0.75"/>
<circle cx="198.7" cy="102.2" r="1.40" fill="#ff00c5"/>
<circle cx="212.4" cy="102.2" r="1.40" fill="#ff00c5"/>
<circle cx="214.9" cy="103.7" r="1.40" fill="#ff00c5"/>
<circle cx="216.3" cy="100.0" r="1.10" fill="#ff00c5"/>
<circle cx="218.0" cy="101.9" r="1.40" fill="#38a800"/>
<circle cx="205.2" cy="106.9" r="1.40" fill="#ff00c5"/>
<circle cx="214.2" cy="107.1" r="1.40" fill="#38a800"/>
<circle cx="216.7" cy="106.2" r="1.40" fill="#38a800"/>
<circle cx="203.4" cy="110.2" r="1.40" fill="#38a800"/>
<circle cx="200.6" cy="110.0" r="1.40" fill="#ff00c5"/>
<circle cx="198.1" cy="111.1" r="1.40" fill="#ff00c5"/>
<circle cx="196.0" cy="110.2" r="1.40" fill="#38a800"/>
<circle cx="213.6" cy="110.2" r="1.40" fill="#38a800"/>
<circle cx="211.1" cy="114.2" r="2.90" fill="#38a800" stroke="#fff" stroke-width="0.35" stroke-opacity="0.75"/>
<circle cx="215.5" cy="116.8" r="4.75" fill="#ff00c5" stroke="#fff" stroke-width="0.35" stroke-opacity="0.75"/>
<circle cx="179.2" cy="119.1" r="1.40" fill="#0070ff"/>
<circle cx="180.9" cy="118.2" r="1.40" fill="#0070ff"/>
<circle cx="185.3" cy="118.2" r="1.40" fill="#38a800"/>
<circle cx="181.4" cy="115.7" r="1.40" fill="#38a800"/>
<circle cx="179.2" cy="124.9" r="1.40" fill="#38a800"/>
<circle cx="184.6" cy="124.8" r="1.40" fill="#ff00c5"/>
<circle cx="174.8" cy="127.7" r="1.40" fill="#0070ff"/>
<circle cx="177.7" cy="127.0" r="1.40" fill="#0070ff"/>
<circle cx="182.4" cy="129.6" r="2.85" fill="#38a800" stroke="#fff" stroke-width="0.35" stroke-opacity="0.75"/>
<circle cx="184.3" cy="130.0" r="1.40" fill="#0070ff"/>
<circle cx="199.3" cy="127.0" r="1.40" fill="#0070ff"/>
<circle cx="197.4" cy="138.1" r="1.40" fill="#38a800"/>
<circle cx="200.1" cy="140.1" r="1.40" fill="#38a800"/>
<circle cx="208.8" cy="146.4" r="1.40" fill="#0070ff"/>
<circle cx="217.2" cy="148.1" r="1.40" fill="#0070ff"/>
<circle cx="212.0" cy="123.5" r="1.40" fill="#ff00c5"/>
<circle cx="221.8" cy="132.5" r="1.40" fill="#38a800"/>
<circle cx="229.9" cy="131.4" r="1.40" fill="#38a800"/>
<circle cx="234.0" cy="131.4" r="1.40" fill="#38a800"/>
<circle cx="240.8" cy="131.4" r="1.40" fill="#38a800"/>
<circle cx="225.5" cy="144.8" r="1.40" fill="#38a800"/>
<circle cx="231.0" cy="145.4" r="1.40" fill="#38a800"/>
<circle cx="235.7" cy="142.4" r="1.40" fill="#38a800"/>
<circle cx="234.7" cy="146.4" r="1.40" fill="#38a800"/>
<circle cx="237.6" cy="146.1" r="1.40" fill="#38a800"/>
<circle cx="239.8" cy="145.7" r="1.40" fill="#38a800"/>
<circle cx="243.4" cy="146.1" r="1.40" fill="#38a800"/>
<circle cx="244.9" cy="144.6" r="1.40" fill="#38a800"/>
<circle cx="249.0" cy="145.4" r="1.40" fill="#38a800"/>
<circle cx="246.4" cy="149.5" r="1.40" fill="#ff00c5"/>
<circle cx="224.0" cy="153.0" r="1.40" fill="#ff00c5"/>
<circle cx="226.6" cy="156.0" r="1.40" fill="#ff00c5"/>
<circle cx="222.6" cy="158.1" r="1.40" fill="#ff00c5"/>
<circle cx="250.3" cy="159.0" r="1.40" fill="#ff00c5"/>
<circle cx="218.9" cy="163.9" r="1.40" fill="#ff00c5"/>
<circle cx="218.6" cy="166.8" r="1.40" fill="#ff00c5"/>
<circle cx="216.4" cy="167.8" r="1.40" fill="#38a800"/>
<circle cx="217.8" cy="178.5" r="1.40" fill="#ff00c5"/>
<circle cx="221.5" cy="185.3" r="3.00" fill="#ff00c5" stroke="#fff" stroke-width="0.35" stroke-opacity="0.75"/>
<circle cx="78.5" cy="125.5" r="1.20" fill="#ff00c5"/>
<circle cx="182.4" cy="130.6" r="1.00" fill="#000a28"/>
<circle cx="229.6" cy="150.2" r="1.30" fill="#000a28"/>
<circle cx="251.4" cy="169.5" r="1.40" fill="#38a800"/>
<circle cx="271.9" cy="166.4" r="1.40" fill="#38a800"/>
<circle cx="279.5" cy="168.5" r="1.40" fill="#38a800"/>
<circle cx="289.2" cy="170.7" r="1.40" fill="#38a800"/>
<circle cx="281.9" cy="173.3" r="1.40" fill="#38a800"/>
<circle cx="295.2" cy="174.6" r="1.40" fill="#38a800"/>
<circle cx="295.8" cy="178.2" r="1.40" fill="#38a800"/>
<circle cx="292.2" cy="183.4" r="1.40" fill="#38a800"/>
<circle cx="289.4" cy="186.7" r="1.40" fill="#38a800"/>
<circle cx="231.3" cy="193.0" r="1.40" fill="#ff00c5"/>
<circle cx="237.4" cy="193.3" r="1.40" fill="#38a800"/>
<circle cx="240.8" cy="194.9" r="1.40" fill="#38a800"/>
<circle cx="246.2" cy="195.5" r="1.40" fill="#0070ff"/>
<circle cx="233.2" cy="205.6" r="1.40" fill="#ff00c5"/>
<circle cx="258.4" cy="191.5" r="1.40" fill="#38a800"/>
<circle cx="273.0" cy="191.8" r="1.40" fill="#ff00c5"/>
<circle cx="270.7" cy="193.7" r="1.40" fill="#38a800"/>
<circle cx="272.2" cy="197.4" r="1.40" fill="#38a800"/>
<circle cx="261.2" cy="200.0" r="1.40" fill="#38a800"/>
<circle cx="270.4" cy="200.6" r="1.40" fill="#38a800"/>
<circle cx="273.6" cy="199.9" r="1.40" fill="#38a800"/>
<circle cx="279.9" cy="199.1" r="1.40" fill="#38a800"/>
<circle cx="286.3" cy="199.9" r="1.40" fill="#38a800"/>
<circle cx="280.9" cy="204.3" r="3.00" fill="#38a800" stroke="#fff" stroke-width="0.35" stroke-opacity="0.75"/>
<circle cx="275.1" cy="205.3" r="2.85" fill="#ff00c5" stroke="#fff" stroke-width="0.35" stroke-opacity="0.75"/>
<circle cx="266.0" cy="205.3" r="1.40" fill="#0070ff"/>
<circle cx="271.9" cy="202.8" r="1.40" fill="#38a800"/>
<circle cx="269.2" cy="208.4" r="1.40" fill="#38a800"/>
<circle cx="270.4" cy="210.3" r="1.40" fill="#38a800"/>
<circle cx="271.4" cy="212.5" r="1.40" fill="#38a800"/>
<circle cx="233.2" cy="212.5" r="1.40" fill="#ff00c5"/>
<circle cx="231.6" cy="216.9" r="1.40" fill="#0070ff"/>
<circle cx="242.2" cy="211.4" r="1.40" fill="#38a800"/>
<circle cx="244.1" cy="219.4" r="1.40" fill="#0070ff"/>
<circle cx="250.3" cy="219.8" r="1.40" fill="#ff00c5"/>
<circle cx="250.3" cy="222.4" r="1.40" fill="#38a800"/>
<circle cx="232.4" cy="222.7" r="2.85" fill="#38a800" stroke="#fff" stroke-width="0.35" stroke-opacity="0.75"/>
<circle cx="236.8" cy="221.3" r="2.30" fill="#ff00c5" stroke="#fff" stroke-width="0.35" stroke-opacity="0.75"/>
<circle cx="236.8" cy="225.4" r="1.40" fill="#38a800"/>
<circle cx="254.2" cy="225.2" r="2.85" fill="#38a800" stroke="#fff" stroke-width="0.35" stroke-opacity="0.75"/>
<circle cx="258.6" cy="225.4" r="1.40" fill="#ff00c5"/>
<circle cx="257.3" cy="228.9" r="1.40" fill="#ff00c5"/>
<circle cx="255.8" cy="231.2" r="1.40" fill="#38a800"/>
<circle cx="247.3" cy="232.5" r="1.40" fill="#38a800"/>
<circle cx="228.4" cy="229.0" r="1.40" fill="#ff00c5"/>
<circle cx="235.2" cy="230.0" r="1.40" fill="#ff00c5"/>
<circle cx="237.4" cy="232.7" r="1.40" fill="#ff00c5"/>
<circle cx="238.1" cy="245.1" r="1.40" fill="#38a800"/>
<circle cx="267.3" cy="216.9" r="2.85" fill="#38a800" stroke="#fff" stroke-width="0.35" stroke-opacity="0.75"/>
<circle cx="255.8" cy="208.6" r="1.40" fill="#38a800"/>
<circle cx="260.9" cy="209.0" r="1.40" fill="#38a800"/>
<circle cx="349.6" cy="65.3" r="1.40" fill="#38a800"/>
<circle cx="346.4" cy="69.7" r="1.40" fill="#38a800"/>
<circle cx="354.7" cy="67.5" r="1.75" fill="#ff00c5"/>
<circle cx="352.5" cy="69.4" r="1.40" fill="#38a800"/>
<circle cx="353.2" cy="73.1" r="1.40" fill="#38a800"/>
<circle cx="357.2" cy="73.1" r="2.85" fill="#38a800" stroke="#fff" stroke-width="0.35" stroke-opacity="0.75"/>
<circle cx="361.7" cy="77.7" r="3.00" fill="#ff00c5" stroke="#fff" stroke-width="0.35" stroke-opacity="0.75"/>
<circle cx="354.7" cy="80.7" r="1.40" fill="#38a800"/>
<circle cx="356.6" cy="84.7" r="1.40" fill="#ff00c5"/>
<circle cx="361.3" cy="90.9" r="3.00" fill="#ff00c5" stroke="#fff" stroke-width="0.35" stroke-opacity="0.75"/>
<circle cx="356.9" cy="94.2" r="1.40" fill="#38a800"/>
<circle cx="351.1" cy="92.8" r="1.40" fill="#ff00c5"/>
<circle cx="342.3" cy="91.3" r="1.40" fill="#ff00c5"/>
<circle cx="341.1" cy="95.5" r="1.40" fill="#ff00c5"/>
<circle cx="347.0" cy="97.9" r="1.40" fill="#ff00c5"/>
<circle cx="349.6" cy="99.3" r="1.40" fill="#ff00c5"/>
<circle cx="344.5" cy="104.7" r="1.40" fill="#38a800"/>
<circle cx="345.5" cy="104.0" r="1.40" fill="#38a800"/>
<circle cx="343.3" cy="108.1" r="1.40" fill="#ff00c5"/>
<circle cx="363.0" cy="99.3" r="1.40" fill="#ff00c5"/>
<circle cx="375.4" cy="99.2" r="1.40" fill="#38a800"/>
<circle cx="376.6" cy="102.6" r="1.40" fill="#ff00c5"/>
<circle cx="380.7" cy="105.9" r="1.40" fill="#ff00c5"/>
<circle cx="384.2" cy="97.7" r="1.40" fill="#ff00c5"/>
<circle cx="378.5" cy="62.1" r="1.40" fill="#38a800"/>
<circle cx="379.5" cy="65.8" r="1.40" fill="#38a800"/>
<circle cx="389.3" cy="59.2" r="1.40" fill="#38a800"/>
<circle cx="401.4" cy="57.6" r="1.40" fill="#38a800"/>
<circle cx="410.9" cy="58.3" r="1.40" fill="#38a800"/>
<circle cx="406.1" cy="69.0" r="1.40" fill="#38a800"/>
<circle cx="423.8" cy="65.6" r="3.00" fill="#38a800" stroke="#fff" stroke-width="0.35" stroke-opacity="0.75"/>
<circle cx="427.3" cy="71.5" r="1.40" fill="#38a800"/>
<circle cx="434.3" cy="64.6" r="1.40" fill="#ff00c5"/>
<circle cx="381.0" cy="71.2" r="3.00" fill="#ff00c5" stroke="#fff" stroke-width="0.35" stroke-opacity="0.75"/>
<circle cx="366.4" cy="72.6" r="1.40" fill="#ff00c5"/>
<circle cx="369.3" cy="71.9" r="2.10" fill="#ff00c5" stroke="#fff" stroke-width="0.35" stroke-opacity="0.75"/>
<circle cx="372.2" cy="74.1" r="2.60" fill="#ff00c5" stroke="#fff" stroke-width="0.35" stroke-opacity="0.75"/>
<circle cx="374.4" cy="71.9" r="1.40" fill="#38a800"/>
<circle cx="368.6" cy="76.3" r="1.40" fill="#ff00c5"/>
<circle cx="371.5" cy="77.0" r="1.40" fill="#ff00c5"/>
<circle cx="374.7" cy="75.5" r="1.40" fill="#ff00c5"/>
<circle cx="377.3" cy="77.0" r="1.40" fill="#ff00c5"/>
<circle cx="373.2" cy="69.7" r="1.40" fill="#ff00c5"/>
<circle cx="375.1" cy="69.0" r="1.40" fill="#ff00c5"/>
<circle cx="373.7" cy="77.7" r="1.40" fill="#38a800"/>
<circle cx="371.2" cy="79.9" r="1.40" fill="#38a800"/>
<circle cx="378.1" cy="79.2" r="1.40" fill="#ff00c5"/>
<circle cx="387.6" cy="71.9" r="1.40" fill="#ff00c5"/>
<circle cx="387.3" cy="74.1" r="1.40" fill="#38a800"/>
<circle cx="391.2" cy="73.4" r="2.30" fill="#38a800" stroke="#fff" stroke-width="0.35" stroke-opacity="0.75"/>
<circle cx="394.6" cy="71.9" r="1.40" fill="#38a800"/>
<circle cx="392.7" cy="76.0" r="1.40" fill="#38a800"/>
<circle cx="389.7" cy="76.3" r="1.40" fill="#ff00c5"/>
<circle cx="383.2" cy="76.0" r="1.40" fill="#38a800"/>
<circle cx="386.1" cy="77.0" r="1.40" fill="#38a800"/>
<circle cx="382.9" cy="78.9" r="1.40" fill="#38a800"/>
<circle cx="386.1" cy="78.9" r="1.40" fill="#38a800"/>
<circle cx="387.3" cy="79.9" r="1.40" fill="#ff00c5"/>
<circle cx="391.2" cy="80.4" r="1.40" fill="#ff00c5"/>
<circle cx="399.7" cy="76.0" r="1.40" fill="#ff00c5"/>
<circle cx="403.3" cy="78.8" r="1.40" fill="#ff00c5"/>
<circle cx="411.6" cy="75.1" r="1.40" fill="#38a800"/>
<circle cx="408.4" cy="80.9" r="1.40" fill="#38a800"/>
<circle cx="411.9" cy="81.8" r="1.40" fill="#38a800"/>
<circle cx="403.6" cy="85.5" r="1.40" fill="#ff00c5"/>
<circle cx="393.7" cy="85.0" r="1.40" fill="#ff00c5"/>
<circle cx="385.7" cy="83.3" r="1.40" fill="#ff00c5"/>
<circle cx="373.7" cy="83.6" r="3.00" fill="#ff00c5" stroke="#fff" stroke-width="0.35" stroke-opacity="0.75"/>
<circle cx="366.4" cy="83.9" r="1.40" fill="#ff00c5"/>
<circle cx="368.3" cy="85.5" r="1.40" fill="#ff00c5"/>
<circle cx="370.8" cy="84.7" r="1.40" fill="#ff00c5"/>
<circle cx="377.3" cy="85.8" r="1.40" fill="#ff00c5"/>
<circle cx="378.5" cy="83.9" r="1.40" fill="#38a800"/>
<circle cx="363.0" cy="83.3" r="1.40" fill="#ff00c5"/>
<circle cx="360.1" cy="86.5" r="1.40" fill="#ff00c5"/>
<circle cx="364.2" cy="86.8" r="1.40" fill="#38a800"/>
<circle cx="367.8" cy="88.2" r="1.40" fill="#ff00c5"/>
<circle cx="370.0" cy="87.2" r="1.40" fill="#ff00c5"/>
<circle cx="382.4" cy="91.6" r="2.60" fill="#ff00c5" stroke="#fff" stroke-width="0.35" stroke-opacity="0.75"/>
<circle cx="379.2" cy="89.9" r="1.40" fill="#ff00c5"/>
<circle cx="383.9" cy="92.6" r="1.40" fill="#38a800"/>
<circle cx="387.3" cy="91.6" r="1.40" fill="#ff00c5"/>
<circle cx="395.1" cy="89.9" r="1.40" fill="#38a800"/>
<circle cx="398.8" cy="88.7" r="1.40" fill="#38a800"/>
<circle cx="397.8" cy="92.3" r="1.40" fill="#ff00c5"/>
<circle cx="399.2" cy="97.0" r="1.40" fill="#ff00c5"/>
<circle cx="405.5" cy="96.3" r="1.40" fill="#ff00c5"/>
<circle cx="408.7" cy="92.3" r="1.40" fill="#ff00c5"/>
<circle cx="409.0" cy="93.2" r="1.40" fill="#38a800"/>
<circle cx="415.3" cy="93.4" r="1.40" fill="#ff00c5"/>
<circle cx="420.1" cy="95.7" r="1.40" fill="#ff00c5"/>
<circle cx="411.9" cy="98.9" r="1.40" fill="#38a800"/>
<circle cx="414.9" cy="97.2" r="1.40" fill="#38a800"/>
<circle cx="418.9" cy="98.9" r="1.40" fill="#38a800"/>
<circle cx="423.0" cy="100.1" r="1.40" fill="#38a800"/>
<circle cx="422.3" cy="102.6" r="1.40" fill="#ff00c5"/>
<circle cx="420.4" cy="104.7" r="1.40" fill="#38a800"/>
<circle cx="419.7" cy="107.7" r="1.40" fill="#38a800"/>
<circle cx="421.1" cy="107.2" r="1.40" fill="#0070ff"/>
<circle cx="412.7" cy="111.0" r="2.85" fill="#ff00c5" stroke="#fff" stroke-width="0.35" stroke-opacity="0.75"/>
<circle cx="410.2" cy="109.1" r="1.40" fill="#ff00c5"/>
<circle cx="416.0" cy="79.2" r="1.40" fill="#38a800"/>
<circle cx="419.7" cy="79.6" r="1.40" fill="#38a800"/>
<circle cx="418.9" cy="77.7" r="1.40" fill="#ff00c5"/>
<circle cx="421.1" cy="76.0" r="1.40" fill="#38a800"/>
<circle cx="424.3" cy="78.5" r="2.85" fill="#ff00c5" stroke="#fff" stroke-width="0.35" stroke-opacity="0.75"/>
<circle cx="423.6" cy="81.1" r="1.40" fill="#38a800"/>
<circle cx="427.7" cy="80.7" r="1.40" fill="#38a800"/>
<circle cx="426.5" cy="84.6" r="1.40" fill="#38a800"/>
<circle cx="431.4" cy="85.0" r="1.40" fill="#ff00c5"/>
<circle cx="434.0" cy="100.0" r="1.40" fill="#0070ff"/>
<circle cx="434.7" cy="105.2" r="2.40" fill="#38a800" stroke="#fff" stroke-width="0.35" stroke-opacity="0.75"/>
<circle cx="444.4" cy="65.3" r="1.40" fill="#38a800"/>
<circle cx="446.2" cy="70.1" r="1.40" fill="#38a800"/>
<circle cx="456.4" cy="67.5" r="1.40" fill="#38a800"/>
<circle cx="463.2" cy="61.4" r="1.40" fill="#ff00c5"/>
<circle cx="464.4" cy="63.9" r="1.40" fill="#38a800"/>
<circle cx="465.9" cy="66.8" r="1.40" fill="#38a800"/>
<circle cx="461.5" cy="69.7" r="1.40" fill="#ff00c5"/>
<circle cx="487.0" cy="67.1" r="1.40" fill="#38a800"/>
<circle cx="503.8" cy="67.1" r="1.40" fill="#38a800"/>
<circle cx="505.3" cy="70.0" r="1.40" fill="#38a800"/>
<circle cx="521.4" cy="65.0" r="1.40" fill="#0070ff"/>
<circle cx="483.4" cy="73.6" r="1.40" fill="#38a800"/>
<circle cx="486.6" cy="76.3" r="1.40" fill="#ff00c5"/>
<circle cx="512.2" cy="86.5" r="1.40" fill="#ff00c5"/>
<circle cx="427.5" cy="71.5" r="1.40" fill="#38a800"/>
<circle cx="438.6" cy="73.1" r="1.40" fill="#38a800"/>
<circle cx="436.4" cy="78.0" r="1.40" fill="#38a800"/>
<circle cx="427.5" cy="80.7" r="1.40" fill="#38a800"/>
<circle cx="426.5" cy="84.6" r="1.40" fill="#38a800"/>
<circle cx="431.6" cy="85.2" r="1.40" fill="#ff00c5"/>
<circle cx="436.7" cy="90.1" r="1.40" fill="#38a800"/>
<circle cx="436.4" cy="93.1" r="1.40" fill="#38a800"/>
<circle cx="445.4" cy="92.6" r="1.40" fill="#38a800"/>
<circle cx="439.2" cy="96.7" r="1.40" fill="#ff00c5"/>
<circle cx="433.5" cy="100.1" r="1.40" fill="#0070ff"/>
<circle cx="436.0" cy="105.5" r="3.00" fill="#38a800" stroke="#fff" stroke-width="0.35" stroke-opacity="0.75"/>
<circle cx="448.1" cy="100.8" r="3.10" fill="#ff00c5" stroke="#fff" stroke-width="0.35" stroke-opacity="0.75"/>
<circle cx="440.8" cy="103.6" r="1.40" fill="#38a800"/>
<circle cx="446.9" cy="103.0" r="1.40" fill="#38a800"/>
<circle cx="448.6" cy="106.5" r="1.40" fill="#ff00c5"/>
<circle cx="443.5" cy="108.8" r="1.40" fill="#ff00c5"/>
<circle cx="441.5" cy="109.9" r="1.40" fill="#38a800"/>
<circle cx="442.2" cy="112.5" r="1.40" fill="#38a800"/>
<circle cx="450.3" cy="111.8" r="1.40" fill="#38a800"/>
<circle cx="462.5" cy="99.9" r="1.40" fill="#ff00c5"/>
<circle cx="467.3" cy="103.6" r="1.40" fill="#ff00c5"/>
<circle cx="474.2" cy="93.4" r="1.40" fill="#ff00c5"/>
<circle cx="475.7" cy="93.8" r="1.40" fill="#38a800"/>
<circle cx="480.2" cy="89.1" r="1.40" fill="#0070ff"/>
<circle cx="482.7" cy="92.3" r="2.85" fill="#38a800" stroke="#fff" stroke-width="0.35" stroke-opacity="0.75"/>
<circle cx="480.5" cy="91.6" r="1.40" fill="#38a800"/>
<circle cx="479.0" cy="96.3" r="1.40" fill="#38a800"/>
<circle cx="486.6" cy="92.6" r="1.40" fill="#ff00c5"/>
<circle cx="489.2" cy="88.4" r="1.40" fill="#38a800"/>
<circle cx="493.3" cy="87.7" r="1.40" fill="#38a800"/>
<circle cx="483.8" cy="104.0" r="1.40" fill="#ff00c5"/>
<circle cx="486.3" cy="104.7" r="1.40" fill="#38a800"/>
<circle cx="489.2" cy="104.0" r="1.40" fill="#38a800"/>
<circle cx="490.0" cy="106.2" r="1.40" fill="#38a800"/>
<circle cx="487.8" cy="107.7" r="1.40" fill="#38a800"/>
<circle cx="486.0" cy="108.8" r="1.40" fill="#38a800"/>
<circle cx="483.8" cy="110.9" r="1.40" fill="#38a800"/>
<circle cx="488.9" cy="108.8" r="1.40" fill="#38a800"/>
<circle cx="491.4" cy="109.1" r="1.40" fill="#38a800"/>
<circle cx="492.9" cy="110.1" r="1.40" fill="#38a800"/>
<circle cx="493.9" cy="113.2" r="2.90" fill="#38a800" stroke="#fff" stroke-width="0.35" stroke-opacity="0.75"/>
<circle cx="491.0" cy="116.9" r="1.40" fill="#38a800"/>
<circle cx="495.1" cy="116.4" r="1.40" fill="#38a800"/>
<circle cx="499.2" cy="117.6" r="1.40" fill="#38a800"/>
<circle cx="500.6" cy="116.4" r="1.40" fill="#38a800"/>
<circle cx="506.0" cy="120.1" r="1.40" fill="#0070ff"/>
<circle cx="508.2" cy="119.3" r="1.40" fill="#38a800"/>
<circle cx="491.5" cy="119.8" r="1.40" fill="#ff00c5"/>
<circle cx="491.5" cy="123.8" r="1.40" fill="#0070ff"/>
<circle cx="440.3" cy="119.8" r="3.00" fill="#38a800" stroke="#fff" stroke-width="0.35" stroke-opacity="0.75"/>
<circle cx="446.5" cy="117.6" r="1.40" fill="#38a800"/>
<circle cx="448.4" cy="119.1" r="1.40" fill="#ff00c5"/>
<circle cx="453.8" cy="120.7" r="1.40" fill="#ff00c5"/>
<circle cx="455.4" cy="119.4" r="1.40" fill="#ff00c5"/>
<circle cx="476.1" cy="119.9" r="1.40" fill="#38a800"/>
<circle cx="442.0" cy="107.7" r="1.40" fill="#38a800"/>
<circle cx="442.5" cy="112.2" r="1.40" fill="#38a800"/>
<circle cx="450.4" cy="111.7" r="1.40" fill="#38a800"/>
<circle cx="435.6" cy="136.8" r="1.40" fill="#38a800"/>
<circle cx="482.5" cy="124.7" r="1.40" fill="#38a800"/>
<circle cx="485.4" cy="123.1" r="1.40" fill="#38a800"/>
<circle cx="486.2" cy="125.1" r="1.40" fill="#38a800"/>
<circle cx="486.5" cy="127.0" r="1.40" fill="#38a800"/>
<circle cx="487.8" cy="129.1" r="1.40" fill="#38a800"/>
<circle cx="488.1" cy="131.2" r="1.40" fill="#38a800"/>
<circle cx="485.9" cy="130.2" r="1.40" fill="#ff00c5"/>
<circle cx="494.2" cy="123.0" r="1.40" fill="#38a800"/>
<circle cx="497.4" cy="126.4" r="1.40" fill="#38a800"/>
<circle cx="501.1" cy="126.4" r="1.40" fill="#38a800"/>
<circle cx="503.9" cy="119.1" r="1.40" fill="#0070ff"/>
<circle cx="503.5" cy="121.5" r="1.40" fill="#38a800"/>
<circle cx="507.9" cy="119.1" r="1.40" fill="#38a800"/>
<circle cx="509.8" cy="121.9" r="1.40" fill="#38a800"/>
<circle cx="509.5" cy="124.0" r="1.40" fill="#38a800"/>
<circle cx="513.2" cy="124.0" r="3.10" fill="#38a800" stroke="#fff" stroke-width="0.35" stroke-opacity="0.75"/>
<circle cx="517.0" cy="122.2" r="1.40" fill="#38a800"/>
<circle cx="496.0" cy="133.4" r="3.10" fill="#38a800" stroke="#fff" stroke-width="0.35" stroke-opacity="0.75"/>
<circle cx="504.4" cy="132.8" r="1.40" fill="#ff00c5"/>
<circle cx="499.4" cy="140.8" r="1.40" fill="#38a800"/>
<circle cx="494.6" cy="141.1" r="1.40" fill="#0070ff"/>
<circle cx="493.4" cy="144.7" r="1.40" fill="#0070ff"/>
<circle cx="498.6" cy="151.9" r="1.40" fill="#38a800"/>
<circle cx="527.2" cy="134.4" r="1.40" fill="#38a800"/>
<circle cx="471.7" cy="93.5" r="1.30" fill="#000a28"/>
<circle cx="508.2" cy="115.2" r="1.30" fill="#000a28"/>
<circle cx="427.5" cy="120.9" r="1.40" fill="#38a800"/>
<circle cx="439.2" cy="120.4" r="2.60" fill="#38a800" stroke="#fff" stroke-width="0.35" stroke-opacity="0.75"/>
<circle cx="427.5" cy="126.1" r="1.40" fill="#38a800"/>
<circle cx="414.8" cy="136.5" r="2.90" fill="#ff00c5" stroke="#fff" stroke-width="0.35" stroke-opacity="0.75"/>
<circle cx="435.5" cy="137.0" r="1.40" fill="#38a800"/>
<circle cx="425.9" cy="148.1" r="1.40" fill="#38a800"/>
<circle cx="333.5" cy="147.3" r="1.40" fill="#0070ff"/>
<circle cx="338.8" cy="152.9" r="1.40" fill="#38a800"/>
<circle cx="354.9" cy="142.6" r="1.40" fill="#38a800"/>
<circle cx="372.6" cy="142.9" r="1.40" fill="#0070ff"/>
<circle cx="370.6" cy="148.0" r="1.40" fill="#38a800"/>
<circle cx="350.6" cy="154.5" r="1.40" fill="#0070ff"/>
<circle cx="357.3" cy="154.2" r="2.90" fill="#0070ff" stroke="#fff" stroke-width="0.35" stroke-opacity="0.75"/>
<circle cx="363.2" cy="152.6" r="2.50" fill="#0070ff" stroke="#fff" stroke-width="0.35" stroke-opacity="0.75"/>
<circle cx="374.6" cy="156.9" r="1.40" fill="#0070ff"/>
<circle cx="377.7" cy="157.4" r="1.40" fill="#0070ff"/>
<circle cx="374.2" cy="163.3" r="1.40" fill="#0070ff"/>
<circle cx="378.5" cy="172.3" r="1.40" fill="#0070ff"/>
<circle cx="381.1" cy="179.9" r="1.40" fill="#0070ff"/>
<circle cx="415.1" cy="163.5" r="1.40" fill="#0070ff"/>
<circle cx="422.7" cy="166.5" r="1.40" fill="#0070ff"/>
<circle cx="426.8" cy="175.8" r="1.40" fill="#0070ff"/>
<circle cx="406.0" cy="184.7" r="1.40" fill="#0070ff"/>
<circle cx="326.7" cy="137.9" r="1.40" fill="#0070ff"/>
<circle cx="412.2" cy="195.6" r="1.40" fill="#38a800"/>
<circle cx="407.0" cy="209.8" r="4.75" fill="#38a800" stroke="#fff" stroke-width="0.35" stroke-opacity="0.75"/>
<circle cx="415.1" cy="209.5" r="1.40" fill="#0070ff"/>
<circle cx="403.8" cy="215.5" r="1.40" fill="#38a800"/>
<circle cx="412.2" cy="216.8" r="1.40" fill="#38a800"/>
<circle cx="390.2" cy="224.0" r="3.10" fill="#38a800" stroke="#fff" stroke-width="0.35" stroke-opacity="0.75"/>
<circle cx="402.6" cy="224.0" r="1.40" fill="#38a800"/>
<circle cx="427.9" cy="126.3" r="1.20" fill="#000a28"/>
<circle cx="371.0" cy="145.7" r="1.20" fill="#000a28"/>
<circle cx="354.9" cy="152.2" r="1.20" fill="#000a28"/>
<circle cx="359.7" cy="153.4" r="1.20" fill="#000a28"/>
<circle cx="363.2" cy="151.8" r="1.20" fill="#000a28"/>
<circle cx="367.7" cy="153.4" r="1.20" fill="#000a28"/>
<circle cx="370.1" cy="155.8" r="1.20" fill="#000a28"/>
<circle cx="384.6" cy="171.8" r="1.20" fill="#000a28"/>
<circle cx="407.4" cy="191.4" r="1.20" fill="#000a28"/>
<circle cx="406.7" cy="211.3" r="1.50" fill="#ff00c5"/>
<circle cx="538.7" cy="121.0" r="1.40" fill="#38a800"/>
<circle cx="539.3" cy="119.0" r="1.40" fill="#ff00c5"/>
<circle cx="544.3" cy="126.9" r="1.40" fill="#38a800"/>
<circle cx="548.6" cy="124.0" r="1.40" fill="#ff00c5"/>
<circle cx="551.0" cy="120.4" r="1.40" fill="#ff00c5"/>
<circle cx="552.1" cy="118.7" r="1.40" fill="#ff00c5"/>
<circle cx="552.1" cy="124.0" r="1.40" fill="#38a800"/>
<circle cx="552.1" cy="128.0" r="1.40" fill="#ff00c5"/>
<circle cx="552.7" cy="126.3" r="1.40" fill="#ff00c5"/>
<circle cx="527.2" cy="134.2" r="1.40" fill="#38a800"/>
<circle cx="535.2" cy="140.1" r="4.75" fill="#38a800" stroke="#fff" stroke-width="0.35" stroke-opacity="0.75"/>
<circle cx="545.9" cy="145.0" r="3.00" fill="#38a800" stroke="#fff" stroke-width="0.35" stroke-opacity="0.75"/>
<circle cx="542.2" cy="143.8" r="1.40" fill="#0070ff"/>
<circle cx="548.6" cy="135.6" r="1.40" fill="#38a800"/>
<circle cx="571.0" cy="138.3" r="3.00" fill="#38a800" stroke="#fff" stroke-width="0.35" stroke-opacity="0.75"/>
<circle cx="576.4" cy="145.8" r="1.40" fill="#38a800"/>
<circle cx="560.3" cy="154.9" r="1.40" fill="#ff00c5"/>
<circle cx="562.6" cy="153.5" r="1.40" fill="#ff00c5"/>
<circle cx="531.6" cy="157.4" r="1.40" fill="#0070ff"/>
<circle cx="536.3" cy="157.8" r="2.90" fill="#ff00c5" stroke="#fff" stroke-width="0.35" stroke-opacity="0.75"/>
<circle cx="534.8" cy="154.1" r="1.40" fill="#38a800"/>
<circle cx="538.2" cy="160.1" r="1.40" fill="#38a800"/>
<circle cx="540.9" cy="161.4" r="1.40" fill="#38a800"/>
<circle cx="536.5" cy="163.3" r="1.40" fill="#0070ff"/>
<circle cx="552.4" cy="161.2" r="1.40" fill="#38a800"/>
<circle cx="542.5" cy="169.2" r="1.40" fill="#38a800"/>
<circle cx="546.5" cy="175.7" r="4.75" fill="#38a800" stroke="#fff" stroke-width="0.35" stroke-opacity="0.75"/>
<circle cx="550.2" cy="176.1" r="1.40" fill="#0070ff"/>
<circle cx="552.6" cy="177.7" r="1.40" fill="#0070ff"/>
<circle cx="552.6" cy="176.1" r="1.40" fill="#38a800"/>
<circle cx="556.1" cy="177.7" r="1.40" fill="#ff00c5"/>
<circle cx="558.1" cy="178.5" r="1.40" fill="#ff00c5"/>
<circle cx="561.0" cy="179.3" r="1.40" fill="#0070ff"/>
<circle cx="603.8" cy="200.6" r="1.40" fill="#0070ff"/>
<circle cx="616.7" cy="198.0" r="1.40" fill="#38a800"/>
<circle cx="627.8" cy="212.5" r="2.85" fill="#38a800" stroke="#fff" stroke-width="0.35" stroke-opacity="0.75"/>
<circle cx="624.1" cy="223.8" r="2.85" fill="#38a800" stroke="#fff" stroke-width="0.35" stroke-opacity="0.75"/>
<circle cx="620.5" cy="226.4" r="1.40" fill="#38a800"/>
<circle cx="613.8" cy="230.8" r="3.00" fill="#38a800" stroke="#fff" stroke-width="0.35" stroke-opacity="0.75"/>
<circle cx="602.2" cy="225.4" r="1.40" fill="#0070ff"/>
<circle cx="666.3" cy="229.3" r="1.40" fill="#38a800"/>
<circle cx="662.4" cy="241.0" r="1.40" fill="#38a800"/>
<circle cx="628.3" cy="213.3" r="1.25" fill="#ff00c5"/>
<circle cx="561.5" cy="219.8" r="2.85" fill="#38a800" stroke="#fff" stroke-width="0.35" stroke-opacity="0.75"/>
<circle cx="541.4" cy="71.5" r="1.40" fill="#38a800"/>
<circle cx="547.5" cy="72.3" r="1.40" fill="#0070ff"/>
<circle cx="557.6" cy="72.0" r="1.40" fill="#ff00c5"/>
<circle cx="546.3" cy="79.3" r="1.40" fill="#38a800"/>
<circle cx="503.5" cy="67.0" r="1.40" fill="#38a800"/>
<circle cx="576.1" cy="80.5" r="1.40" fill="#ff00c5"/>
<circle cx="578.4" cy="81.7" r="1.40" fill="#ff00c5"/>
<circle cx="581.3" cy="83.4" r="1.40" fill="#ff00c5"/>
<circle cx="579.0" cy="86.4" r="1.40" fill="#ff00c5"/>
<circle cx="581.3" cy="86.7" r="1.40" fill="#ff00c5"/>
<circle cx="586.4" cy="85.2" r="1.40" fill="#ff00c5"/>
<circle cx="588.9" cy="83.1" r="1.40" fill="#ff00c5"/>
<circle cx="596.0" cy="78.5" r="1.40" fill="#ff00c5"/>
<circle cx="599.2" cy="74.6" r="1.40" fill="#ff00c5"/>
<circle cx="574.3" cy="89.3" r="2.10" fill="#ff00c5" stroke="#fff" stroke-width="0.35" stroke-opacity="0.75"/>
<circle cx="576.7" cy="88.7" r="1.40" fill="#ff00c5"/>
<circle cx="573.2" cy="91.6" r="1.40" fill="#38a800"/>
<circle cx="575.5" cy="91.0" r="1.40" fill="#ff00c5"/>
<circle cx="571.4" cy="95.1" r="1.40" fill="#ff00c5"/>
<circle cx="579.6" cy="94.9" r="1.40" fill="#38a800"/>
<circle cx="581.5" cy="97.5" r="2.80" fill="#ff00c5" stroke="#fff" stroke-width="0.35" stroke-opacity="0.75"/>
<circle cx="581.9" cy="101.5" r="1.40" fill="#ff00c5"/>
<circle cx="585.2" cy="101.3" r="1.40" fill="#ff00c5"/>
<circle cx="583.1" cy="100.2" r="1.40" fill="#ff00c5"/>
<circle cx="585.3" cy="101.6" r="1.40" fill="#ff00c5"/>
<circle cx="608.2" cy="87.0" r="1.75" fill="#ff00c5"/>
<circle cx="606.5" cy="88.5" r="1.40" fill="#ff00c5"/>
<circle cx="588.7" cy="83.1" r="1.40" fill="#ff00c5"/>
<circle cx="586.4" cy="85.3" r="1.40" fill="#ff00c5"/>
<circle cx="604.3" cy="99.4" r="4.50" fill="#ff00c5" stroke="#fff" stroke-width="0.35" stroke-opacity="0.75"/>
<circle cx="599.2" cy="100.9" r="3.75" fill="#ff00c5" stroke="#fff" stroke-width="0.35" stroke-opacity="0.75"/>
<circle cx="596.3" cy="103.0" r="3.40" fill="#ff00c5" stroke="#fff" stroke-width="0.35" stroke-opacity="0.75"/>
<circle cx="601.5" cy="101.5" r="3.10" fill="#ff00c5" stroke="#fff" stroke-width="0.35" stroke-opacity="0.75"/>
<circle cx="589.0" cy="106.4" r="2.30" fill="#38a800" stroke="#fff" stroke-width="0.35" stroke-opacity="0.75"/>
<circle cx="591.9" cy="103.8" r="1.40" fill="#38a800"/>
<circle cx="594.1" cy="103.5" r="1.40" fill="#38a800"/>
<circle cx="590.1" cy="105.0" r="1.40" fill="#38a800"/>
<circle cx="583.1" cy="117.7" r="1.40" fill="#ff00c5"/>
<circle cx="563.8" cy="92.2" r="3.00" fill="#ff00c5" stroke="#fff" stroke-width="0.35" stroke-opacity="0.75"/>
<circle cx="566.3" cy="93.0" r="2.10" fill="#ff00c5" stroke="#fff" stroke-width="0.35" stroke-opacity="0.75"/>
<circle cx="549.2" cy="103.5" r="3.00" fill="#ff00c5" stroke="#fff" stroke-width="0.35" stroke-opacity="0.75"/>
<circle cx="541.4" cy="109.7" r="3.30" fill="#ff00c5" stroke="#fff" stroke-width="0.35" stroke-opacity="0.75"/>
<circle cx="537.2" cy="99.2" r="1.40" fill="#ff00c5"/>
<circle cx="540.8" cy="100.6" r="1.40" fill="#ff00c5"/>
<circle cx="545.1" cy="95.9" r="1.40" fill="#ff00c5"/>
<circle cx="551.3" cy="92.2" r="1.40" fill="#ff00c5"/>
<circle cx="554.7" cy="91.8" r="1.40" fill="#ff00c5"/>
<circle cx="545.7" cy="111.7" r="1.40" fill="#ff00c5"/>
<circle cx="545.9" cy="117.3" r="1.40" fill="#ff00c5"/>
<circle cx="558.0" cy="123.4" r="4.50" fill="#ff00c5" stroke="#fff" stroke-width="0.35" stroke-opacity="0.75"/>
<circle cx="565.0" cy="121.6" r="3.00" fill="#38a800" stroke="#fff" stroke-width="0.35" stroke-opacity="0.75"/>
<circle cx="566.7" cy="119.3" r="2.10" fill="#38a800" stroke="#fff" stroke-width="0.35" stroke-opacity="0.75"/>
<circle cx="570.2" cy="123.4" r="3.00" fill="#ff00c5" stroke="#fff" stroke-width="0.35" stroke-opacity="0.75"/>
<circle cx="572.3" cy="119.3" r="2.60" fill="#ff00c5" stroke="#fff" stroke-width="0.35" stroke-opacity="0.75"/>
<circle cx="570.8" cy="115.0" r="1.40" fill="#38a800"/>
<circle cx="569.1" cy="112.6" r="1.40" fill="#ff00c5"/>
<circle cx="572.3" cy="110.9" r="1.40" fill="#38a800"/>
<circle cx="561.2" cy="104.6" r="1.40" fill="#ff00c5"/>
<circle cx="557.7" cy="100.2" r="1.40" fill="#38a800"/>
<circle cx="567.9" cy="103.0" r="1.40" fill="#38a800"/>
<circle cx="553.8" cy="106.6" r="1.40" fill="#38a800"/>
<circle cx="553.7" cy="91.0" r="1.40" fill="#ff00c5"/>
<circle cx="564.1" cy="101.2" r="1.40" fill="#ff00c5"/>
<circle cx="564.1" cy="103.9" r="2.20" fill="#ff00c5" stroke="#fff" stroke-width="0.35" stroke-opacity="0.75"/>
<circle cx="565.4" cy="108.7" r="1.40" fill="#ff00c5"/>
<circle cx="560.7" cy="100.9" r="1.40" fill="#38a800"/>
<circle cx="560.2" cy="95.8" r="1.40" fill="#ff00c5"/>
<circle cx="558.3" cy="103.0" r="1.40" fill="#ff00c5"/>
<circle cx="562.8" cy="109.3" r="2.20" fill="#ff00c5" stroke="#fff" stroke-width="0.35" stroke-opacity="0.75"/>
<circle cx="561.9" cy="96.6" r="1.40" fill="#ff00c5"/>
<circle cx="554.9" cy="106.5" r="1.40" fill="#38a800"/>
<circle cx="570.0" cy="103.7" r="1.40" fill="#ff00c5"/>
<circle cx="565.7" cy="97.8" r="1.40" fill="#ff00c5"/>
<circle cx="557.5" cy="98.3" r="2.20" fill="#ff00c5" stroke="#fff" stroke-width="0.35" stroke-opacity="0.75"/>
<circle cx="554.9" cy="102.9" r="1.40" fill="#38a800"/>
<circle cx="564.4" cy="97.1" r="1.40" fill="#ff00c5"/>
<circle cx="568.2" cy="102.4" r="1.40" fill="#38a800"/>
<circle cx="570.8" cy="105.2" r="1.40" fill="#38a800"/>
<circle cx="554.3" cy="109.2" r="1.40" fill="#38a800"/>
<circle cx="566.9" cy="90.6" r="1.40" fill="#ff00c5"/>
<circle cx="555.7" cy="111.2" r="1.40" fill="#ff00c5"/>
<circle cx="564.2" cy="105.4" r="1.40" fill="#ff00c5"/>
<circle cx="559.1" cy="99.0" r="1.40" fill="#38a800"/>
<circle cx="557.9" cy="107.2" r="1.40" fill="#ff00c5"/>
<circle cx="555.3" cy="100.7" r="1.40" fill="#ff00c5"/>
<circle cx="569.8" cy="95.3" r="1.40" fill="#ff00c5"/>
<circle cx="558.4" cy="105.3" r="1.40" fill="#38a800"/>
<circle cx="564.3" cy="102.4" r="1.40" fill="#38a800"/>
<circle cx="561.6" cy="103.2" r="1.40" fill="#38a800"/>
<circle cx="566.5" cy="104.9" r="2.20" fill="#38a800" stroke="#fff" stroke-width="0.35" stroke-opacity="0.75"/>
<circle cx="560.3" cy="99.3" r="1.40" fill="#ff00c5"/>
<circle cx="560.7" cy="103.8" r="2.20" fill="#ff00c5" stroke="#fff" stroke-width="0.35" stroke-opacity="0.75"/>
<circle cx="556.7" cy="103.0" r="1.40" fill="#38a800"/>
<circle cx="560.3" cy="105.4" r="1.40" fill="#ff00c5"/>
<circle cx="559.6" cy="100.9" r="1.40" fill="#ff00c5"/>
<circle cx="567.7" cy="94.5" r="1.40" fill="#ff00c5"/>
<circle cx="567.0" cy="110.4" r="1.40" fill="#ff00c5"/>
<circle cx="560.7" cy="105.2" r="2.20" fill="#ff00c5" stroke="#fff" stroke-width="0.35" stroke-opacity="0.75"/>
<circle cx="568.2" cy="92.8" r="1.40" fill="#ff00c5"/>
<circle cx="563.4" cy="108.7" r="1.40" fill="#ff00c5"/>
<circle cx="566.6" cy="102.3" r="1.40" fill="#ff00c5"/>
<circle cx="568.0" cy="99.7" r="2.20" fill="#ff00c5" stroke="#fff" stroke-width="0.35" stroke-opacity="0.75"/>
<circle cx="567.3" cy="99.9" r="1.40" fill="#ff00c5"/>
<circle cx="563.7" cy="105.3" r="2.20" fill="#ff00c5" stroke="#fff" stroke-width="0.35" stroke-opacity="0.75"/>
<circle cx="565.7" cy="95.7" r="1.40" fill="#ff00c5"/>
<circle cx="569.1" cy="106.0" r="1.40" fill="#ff00c5"/>
<circle cx="562.5" cy="94.7" r="1.40" fill="#38a800"/>
<circle cx="557.9" cy="110.9" r="1.40" fill="#ff00c5"/>
<circle cx="562.0" cy="97.9" r="1.40" fill="#38a800"/>
<circle cx="570.3" cy="95.4" r="2.20" fill="#38a800" stroke="#fff" stroke-width="0.35" stroke-opacity="0.75"/>
<circle cx="570.1" cy="100.4" r="1.40" fill="#ff00c5"/>
<circle cx="563.1" cy="102.2" r="1.40" fill="#ff00c5"/>
<circle cx="564.1" cy="97.8" r="1.40" fill="#ff00c5"/>
<circle cx="562.9" cy="109.5" r="1.40" fill="#ff00c5"/>
<circle cx="570.3" cy="111.2" r="1.40" fill="#ff00c5"/>
<circle cx="556.1" cy="101.4" r="1.40" fill="#ff00c5"/>
<circle cx="559.4" cy="102.9" r="1.40" fill="#38a800"/>
<circle cx="565.3" cy="107.5" r="1.40" fill="#ff00c5"/>
<circle cx="560.5" cy="100.2" r="1.00" fill="#0070ff"/>
<circle cx="569.5" cy="108.3" r="3.35" fill="#ff00c5" stroke="#fff" stroke-width="0.35" stroke-opacity="0.75"/>
<circle cx="567.0" cy="105.5" r="2.10" fill="#ff00c5" stroke="#fff" stroke-width="0.35" stroke-opacity="0.75"/>
<circle cx="571.5" cy="120.0" r="2.85" fill="#ff00c5" stroke="#fff" stroke-width="0.35" stroke-opacity="0.75"/>
</g>
<g fill="none" stroke="#fff" stroke-width="0.5" opacity="0.8">
<circle cx="192.8" cy="84.6" r="1.5"/>
<circle cx="159.9" cy="92.5" r="1.5"/>
<circle cx="207.4" cy="93.3" r="2.0"/>
<circle cx="189.5" cy="111.5" r="2.0"/>
<circle cx="159.8" cy="104.9" r="2.0"/>
<circle cx="535.2" cy="140.1" r="1.2"/>
<circle cx="558.0" cy="123.4" r="1.4"/>
<circle cx="546.5" cy="175.7" r="1.2"/>
<circle cx="275.1" cy="205.3" r="1.5"/>
<circle cx="624.1" cy="223.8" r="1.5"/>
<circle cx="254.2" cy="225.2" r="1.2"/>
<circle cx="232.4" cy="222.7" r="1.2"/>
</g>
<rect x="566.7" y="106.4" width="5.5" height="3.8" fill="none" stroke="#111" stroke-width="0.8"/>
<path d="M178.15 63.77 L203.00 89.50 L179.85 62.23 Z" fill="#fff" stroke="#111" stroke-width="0.65" stroke-linejoin="miter"/>
<path d="M240.88 100.03 L216.50 117.00 L242.12 101.97 Z" fill="#fff" stroke="#111" stroke-width="0.65" stroke-linejoin="miter"/>
<line x1="282" y1="214" x2="275.3" y2="205.5" stroke="#111" stroke-width="1"/>
<path d="M544.20 60.06 L563.90 93.00 L546.20 58.94 Z" fill="#fff" stroke="#111" stroke-width="0.65" stroke-linejoin="miter"/>
<line x1="571.5" y1="60" x2="565.8" y2="93.5" stroke="#111" stroke-width="1"/>
<path d="M635.68 80.90 L582.40 97.70 L636.32 83.10 Z" fill="#fff" stroke="#111" stroke-width="0.65" stroke-linejoin="miter"/>
<path d="M629.26 93.87 L601.40 100.90 L629.74 96.13 Z" fill="#fff" stroke="#111" stroke-width="0.65" stroke-linejoin="miter"/>
<path d="M616.93 104.40 L605.80 102.30 L616.27 106.60 Z" fill="#fff" stroke="#111" stroke-width="0.65" stroke-linejoin="miter"/>
<path d="M592.79 113.19 L572.40 109.00 L592.21 115.41 Z" fill="#fff" stroke="#111" stroke-width="0.65" stroke-linejoin="miter"/>
<path d="M592.82 132.50 L558.40 123.70 L592.18 134.70 Z" fill="#fff" stroke="#111" stroke-width="0.65" stroke-linejoin="miter"/>
<rect x="138.6" y="52.4" width="40.8" height="12.8" fill="#fff" stroke="#444" stroke-width="0.7"/>
<text x="139.7" y="62.3" font-size="10.5" textLength="38.6" lengthAdjust="spacingAndGlyphs">Chicago</text>
<rect x="241.2" y="92.5" width="29.5" height="13" fill="#fff" stroke="#444" stroke-width="0.7"/>
<text x="242.3" y="102.6" font-size="10.5" textLength="27.3" lengthAdjust="spacingAndGlyphs">Miami</text>
<rect x="281.5" y="212.2" width="49.9" height="12.2" fill="#fff" stroke="#444" stroke-width="0.7"/>
<text x="282.6" y="221.5" font-size="10.5" textLength="47.7" lengthAdjust="spacingAndGlyphs">São Paulo</text>
<rect x="511.4" y="48" width="34.1" height="13.5" fill="#fff" stroke="#444" stroke-width="0.7"/>
<text x="512.5" y="58.6" font-size="10.5" textLength="31.9" lengthAdjust="spacingAndGlyphs">Beijing</text>
<rect x="571.3" y="48" width="32.4" height="13.5" fill="#fff" stroke="#444" stroke-width="0.7"/>
<text x="572.4" y="58.6" font-size="10.5" textLength="30.2" lengthAdjust="spacingAndGlyphs">Tianjin</text>
<rect x="635.7" y="72.7" width="28.9" height="12" fill="#fff" stroke="#444" stroke-width="0.7"/>
<text x="636.8" y="81.8" font-size="10.5" textLength="26.7" lengthAdjust="spacingAndGlyphs">Seoul</text>
<rect x="629.1" y="86.7" width="29.2" height="12.4" fill="#fff" stroke="#444" stroke-width="0.7"/>
<text x="630.2" y="96.2" font-size="10.5" textLength="27" lengthAdjust="spacingAndGlyphs">Tokyo</text>
<rect x="616.4" y="101.6" width="32.1" height="12.7" fill="#fff" stroke="#444" stroke-width="0.7"/>
<text x="617.5" y="111.4" font-size="10.5" textLength="29.9" lengthAdjust="spacingAndGlyphs">Osaka</text>
<rect x="592.3" y="110.8" width="24.3" height="12.8" fill="#fff" stroke="#444" stroke-width="0.7"/>
<text x="593.4" y="120.7" font-size="10.5" textLength="22.1" lengthAdjust="spacingAndGlyphs">YRD</text>
<rect x="592.3" y="131.2" width="24.5" height="12.3" fill="#fff" stroke="#444" stroke-width="0.7"/>
<text x="593.4" y="140.6" font-size="10.5" textLength="22.3" lengthAdjust="spacingAndGlyphs">PRD</text>
<text x="308.3" y="168.1" font-size="9.5" textLength="61.5" lengthAdjust="spacingAndGlyphs">Gulf of Guinea</text>
<text x="45.2" y="149" font-size="10.9" textLength="57" lengthAdjust="spacingAndGlyphs">Levels of R</text>
<text x="102.6" y="151" font-size="9.5" font-weight="bold" textLength="40.3" lengthAdjust="spacingAndGlyphs">greening</text>
<text x="46.1" y="166.4" font-size="11.3">R1</text>
<text x="74.6" y="166.4" font-size="11.3">R2</text>
<text x="102.7" y="166.4" font-size="11.3">R3</text>
<circle cx="52.4" cy="181" r="1.15" fill="#0070ff"/>
<circle cx="80.5" cy="181" r="1.15" fill="#38a800"/>
<circle cx="108.4" cy="181" r="1.15" fill="#ff00c5"/>
<circle cx="52.4" cy="196.8" r="2.85" fill="#0070ff"/>
<circle cx="80.5" cy="196.8" r="2.85" fill="#38a800"/>
<circle cx="108.4" cy="196.8" r="2.85" fill="#ff00c5"/>
<circle cx="52.4" cy="212.5" r="4.6" fill="#0070ff"/>
<circle cx="80.5" cy="212.5" r="4.6" fill="#38a800"/>
<circle cx="108.4" cy="212.5" r="4.6" fill="#ff00c5"/>
<text x="123.7" y="184.8" font-size="11.3" textLength="44" lengthAdjust="spacingAndGlyphs">100–580</text>
<text x="123.7" y="200.7" font-size="11.3" textLength="50.3" lengthAdjust="spacingAndGlyphs">580–2000</text>
<text x="123.7" y="215.6" font-size="11.3" textLength="31.3" lengthAdjust="spacingAndGlyphs">&gt;2000</text>
<text x="125.2" y="230.7" font-size="11.3" textLength="92.5" lengthAdjust="spacingAndGlyphs">BUA in 2018 (km<tspan font-size="7" dy="-4">2</tspan><tspan dy="4">)</tspan></text>
<text transform="translate(47.4 228.1) rotate(42.5)" font-size="10.9">0–0.01</text>
<text transform="translate(76.4 229.7) rotate(42.5)" font-size="10.9">0.01–0.1</text>
<text transform="translate(104.7 232.7) rotate(42.5)" font-size="10.9">&gt;0.1</text>
<rect x="38.5" y="14.4" width="637" height="248.9" fill="none" stroke="#3a3a3a" stroke-width="1"/>
<g stroke="#2b2b2b" stroke-width="0.9">
<line x1="39.5" y1="10.9" x2="39.5" y2="14.4"/>
<line x1="92.5" y1="10.9" x2="92.5" y2="14.4"/>
<line x1="145.5" y1="10.9" x2="145.5" y2="14.4"/>
<line x1="198.5" y1="10.9" x2="198.5" y2="14.4"/>
<line x1="251.5" y1="10.9" x2="251.5" y2="14.4"/>
<line x1="304.5" y1="10.9" x2="304.5" y2="14.4"/>
<line x1="357.5" y1="10.9" x2="357.5" y2="14.4"/>
<line x1="410.5" y1="10.9" x2="410.5" y2="14.4"/>
<line x1="463.5" y1="10.9" x2="463.5" y2="14.4"/>
<line x1="516.5" y1="10.9" x2="516.5" y2="14.4"/>
<line x1="569.5" y1="10.9" x2="569.5" y2="14.4"/>
<line x1="622.5" y1="10.9" x2="622.5" y2="14.4"/>
<line x1="675.5" y1="10.9" x2="675.5" y2="14.4"/>
<line x1="35.4" y1="40.6" x2="38.5" y2="40.6"/>
<line x1="675.5" y1="40.6" x2="678.6" y2="40.6"/>
<line x1="35.4" y1="75.9" x2="38.5" y2="75.9"/>
<line x1="675.5" y1="75.9" x2="678.6" y2="75.9"/>
<line x1="35.4" y1="111.1" x2="38.5" y2="111.1"/>
<line x1="675.5" y1="111.1" x2="678.6" y2="111.1"/>
<line x1="35.4" y1="146.4" x2="38.5" y2="146.4"/>
<line x1="675.5" y1="146.4" x2="678.6" y2="146.4"/>
<line x1="35.4" y1="181.6" x2="38.5" y2="181.6"/>
<line x1="675.5" y1="181.6" x2="678.6" y2="181.6"/>
<line x1="35.4" y1="216.9" x2="38.5" y2="216.9"/>
<line x1="675.5" y1="216.9" x2="678.6" y2="216.9"/>
<line x1="35.4" y1="252.1" x2="38.5" y2="252.1"/>
<line x1="675.5" y1="252.1" x2="678.6" y2="252.1"/>
</g>
<text x="39.5" y="8" font-size="9.8" text-anchor="middle">180°</text>
<text x="92.5" y="8" font-size="9.8" text-anchor="middle">150°W</text>
<text x="145.5" y="8" font-size="9.8" text-anchor="middle">120°W</text>
<text x="198.5" y="8" font-size="9.8" text-anchor="middle">90°W</text>
<text x="251.5" y="8" font-size="9.8" text-anchor="middle">60°W</text>
<text x="304.5" y="8" font-size="9.8" text-anchor="middle">30°W</text>
<text x="357.5" y="8" font-size="9.8" text-anchor="middle">0°</text>
<text x="410.5" y="8" font-size="9.8" text-anchor="middle">30°E</text>
<text x="463.5" y="8" font-size="9.8" text-anchor="middle">60°E</text>
<text x="516.5" y="8" font-size="9.8" text-anchor="middle">90°E</text>
<text x="569.5" y="8" font-size="9.8" text-anchor="middle">120°E</text>
<text x="622.5" y="8" font-size="9.8" text-anchor="middle">150°E</text>
<text x="675.8" y="8" font-size="9.8" text-anchor="middle">180°</text>
<text transform="translate(33 40.6) rotate(-90)" font-size="9.8" text-anchor="middle">70°N</text>
<text transform="translate(33 75.9) rotate(-90)" font-size="9.8" text-anchor="middle">50°N</text>
<text transform="translate(33 111.1) rotate(-90)" font-size="9.8" text-anchor="middle">30°N</text>
<text transform="translate(33 146.4) rotate(-90)" font-size="9.8" text-anchor="middle">10°N</text>
<text transform="translate(33 181.6) rotate(-90)" font-size="9.8" text-anchor="middle">10°S</text>
<text transform="translate(33 216.9) rotate(-90)" font-size="9.8" text-anchor="middle">30°S</text>
<text transform="translate(33 252.1) rotate(-90)" font-size="9.8" text-anchor="middle">50°S</text>
<text x="0" y="7.7" font-size="13.5" font-weight="bold" fill="#000">a</text>
</g>
<g id="panel-b">
<rect x="43.5" y="344.1" width="15.3" height="123.4" fill="#ff00ff"/>
<text x="51.1" y="342.5" font-size="9.6" text-anchor="middle">143</text>
<rect x="58.8" y="298.8" width="15.3" height="168.7" fill="#008a00"/>
<text x="66.4" y="297.2" font-size="9.6" text-anchor="middle">195</text>
<rect x="74.1" y="454.5" width="15.3" height="13.0" fill="#0a9dff"/>
<text x="81.7" y="452.9" font-size="9.6" text-anchor="middle">15</text>
<rect x="99.6" y="330.2" width="15.3" height="137.3" fill="#ff00ff"/>
<text x="106.5" y="328.6" font-size="9.6" text-anchor="middle">159</text>
<rect x="114.9" y="332.1" width="15.3" height="135.4" fill="#008a00"/>
<text x="123.8" y="330.5" font-size="9.6" text-anchor="middle">157</text>
<rect x="130.2" y="446.5" width="15.3" height="21.0" fill="#0a9dff"/>
<text x="137.9" y="444.9" font-size="9.6" text-anchor="middle">24</text>
<rect x="155.9" y="449.4" width="15.3" height="18.1" fill="#ff00ff"/>
<text x="163.6" y="447.8" font-size="9.6" text-anchor="middle">21</text>
<rect x="171.2" y="403.3" width="15.3" height="64.2" fill="#008a00"/>
<text x="178.9" y="401.7" font-size="9.6" text-anchor="middle">74</text>
<rect x="186.5" y="439.8" width="15.3" height="27.7" fill="#0a9dff"/>
<text x="194.2" y="438.2" font-size="9.6" text-anchor="middle">32</text>
<rect x="212.1" y="465.8" width="15.3" height="1.7" fill="#ff00ff"/>
<text x="219.8" y="464.2" font-size="9.6" text-anchor="middle">2</text>
<rect x="227.4" y="458.8" width="15.3" height="8.7" fill="#008a00"/>
<text x="235.1" y="457.2" font-size="9.6" text-anchor="middle">10</text>
<rect x="242.7" y="459.7" width="15.3" height="7.8" fill="#0a9dff"/>
<text x="250.4" y="458.1" font-size="9.6" text-anchor="middle">9</text>
<g stroke="#222" stroke-width="0.9" fill="none">
<line x1="38.9" y1="286.1" x2="38.9" y2="467.5"/>
<line x1="38.4" y1="467.5" x2="263.5" y2="467.5"/>
<line x1="35" y1="467.5" x2="38.9" y2="467.5"/>
<line x1="35" y1="431.3" x2="38.9" y2="431.3"/>
<line x1="35" y1="395.1" x2="38.9" y2="395.1"/>
<line x1="35" y1="358.9" x2="38.9" y2="358.9"/>
<line x1="35" y1="322.7" x2="38.9" y2="322.7"/>
<line x1="35" y1="286.5" x2="38.9" y2="286.5"/>
<line x1="36.8" y1="449.4" x2="38.9" y2="449.4"/>
<line x1="36.8" y1="413.2" x2="38.9" y2="413.2"/>
<line x1="36.8" y1="377.0" x2="38.9" y2="377.0"/>
<line x1="36.8" y1="340.8" x2="38.9" y2="340.8"/>
<line x1="36.8" y1="304.6" x2="38.9" y2="304.6"/>
<line x1="66.4" y1="467.5" x2="66.4" y2="471.3"/>
<line x1="122.6" y1="467.5" x2="122.6" y2="471.3"/>
<line x1="178.9" y1="467.5" x2="178.9" y2="471.3"/>
<line x1="235.1" y1="467.5" x2="235.1" y2="471.3"/>
<line x1="94.5" y1="467.5" x2="94.5" y2="469.6"/>
<line x1="150.7" y1="467.5" x2="150.7" y2="469.6"/>
<line x1="207.0" y1="467.5" x2="207.0" y2="469.6"/>
</g>
<text x="30.6" y="471.2" font-size="10.6" text-anchor="end">0</text>
<text x="30.6" y="435.0" font-size="10.6" text-anchor="end">5</text>
<text x="30.6" y="398.8" font-size="10.6" text-anchor="end">10</text>
<text x="30.6" y="362.6" font-size="10.6" text-anchor="end">15</text>
<text x="30.6" y="326.4" font-size="10.6" text-anchor="end">20</text>
<text x="30.6" y="290.2" font-size="10.6" text-anchor="end">25</text>
<text x="66.4" y="484.6" font-size="10.6" text-anchor="middle">H</text>
<text x="122.6" y="484.6" font-size="10.6" text-anchor="middle">UM</text>
<text x="178.9" y="484.6" font-size="10.6" text-anchor="middle">LM</text>
<text x="235.1" y="484.6" font-size="10.6" text-anchor="middle">L</text>
<text transform="translate(8.6 441.3) rotate(-90)" font-size="10.8" textLength="139.3" lengthAdjust="spacingAndGlyphs">Percentage of large cities (%)</text>
<g stroke="#9b30ff" stroke-width="0.9" fill="none">
<line x1="263.5" y1="286.1" x2="263.5" y2="467.9"/>
<line x1="263.5" y1="467.5" x2="267" y2="467.5"/>
<line x1="263.5" y1="422.2" x2="267" y2="422.2"/>
<line x1="263.5" y1="377.0" x2="267" y2="377.0"/>
<line x1="263.5" y1="331.8" x2="267" y2="331.8"/>
<line x1="263.5" y1="286.5" x2="267" y2="286.5"/>
<line x1="261.3" y1="444.9" x2="263.5" y2="444.9"/>
<line x1="261.3" y1="399.6" x2="263.5" y2="399.6"/>
<line x1="261.3" y1="354.4" x2="263.5" y2="354.4"/>
<line x1="261.3" y1="309.1" x2="263.5" y2="309.1"/>
</g>
<text x="272.2" y="470.9" font-size="10.4" style="fill:#9b30ff" textLength="20.2" lengthAdjust="spacingAndGlyphs">0.00</text>
<text x="272.2" y="425.6" font-size="10.4" style="fill:#9b30ff" textLength="20.2" lengthAdjust="spacingAndGlyphs">0.05</text>
<text x="272.2" y="380.4" font-size="10.4" style="fill:#9b30ff" textLength="20.2" lengthAdjust="spacingAndGlyphs">0.10</text>
<text x="272.2" y="335.1" font-size="10.4" style="fill:#9b30ff" textLength="20.2" lengthAdjust="spacingAndGlyphs">0.15</text>
<text x="272.2" y="289.9" font-size="10.4" style="fill:#9b30ff" textLength="20.2" lengthAdjust="spacingAndGlyphs">0.20</text>
<text transform="translate(308.4 420) rotate(-90)" font-size="12.1" style="fill:#9b30ff" textLength="62.6" lengthAdjust="spacingAndGlyphs">Average <tspan font-style="italic">R</tspan></text>
<text transform="translate(309.9 357.3) rotate(-90)" font-size="8.2" style="fill:#9b30ff" textLength="24" lengthAdjust="spacingAndGlyphs">greening</text>
<polyline points="66.3,370.4 122.5,356.7 178.9,416 235.3,438.4" fill="none" stroke="#9b30ff" stroke-width="1"/>
<path d="M66.3 366.2 V374.7 M63.7 366.2 H68.9 M63.7 374.7 H68.9" stroke="#111" stroke-width="0.7" fill="none"/>
<circle cx="66.3" cy="370.4" r="1.7" fill="#7a12e8"/>
<path d="M122.5 350.4 V362.4 M119.9 350.4 H125.1 M119.9 362.4 H125.1" stroke="#111" stroke-width="0.7" fill="none"/>
<circle cx="122.5" cy="356.7" r="1.7" fill="#7a12e8"/>
<path d="M178.9 410 V422.1 M176.3 410 H181.5 M176.3 422.1 H181.5" stroke="#111" stroke-width="0.7" fill="none"/>
<circle cx="178.9" cy="416" r="1.7" fill="#7a12e8"/>
<path d="M235.3 430.3 V447 M232.7 430.3 H237.9 M232.7 447 H237.9" stroke="#777" stroke-width="0.7" fill="none"/>
<circle cx="235.3" cy="438.4" r="1.7" fill="#7a12e8"/>
<line x1="162.3" y1="292.8" x2="183.7" y2="292.8" stroke="#9b30ff" stroke-width="1"/>
<circle cx="173.2" cy="292.8" r="1.6" fill="#6a0fd6"/>
<text x="186.4" y="296" font-size="9.4" style="fill:#9b30ff">Average <tspan font-style="italic">R</tspan><tspan font-size="6.5" dy="2.8">greening</tspan></text>
<rect x="198.7" y="305.2" width="21.4" height="10.2" fill="#ff00ff"/>
<text x="222.6" y="313.7" font-size="9.4">&gt;0.1</text>
<rect x="198.7" y="316.8" width="21.4" height="10.2" fill="#008a00"/>
<text x="222.6" y="325.3" font-size="9.4">0.01–0.1</text>
<rect x="198.7" y="328.4" width="21.4" height="10.2" fill="#0a9dff"/>
<text x="222.6" y="336.9" font-size="9.4">&lt;0.01</text>
<text x="0" y="284.3" font-size="13" font-weight="bold" fill="#000">b</text>
</g>
<g id="panel-c">
<g clip-path="url(#cc)">
<path d="M552.7 317.5 L563.3 311.2 L580.2 302.7 L588.7 302.3 L601.4 309.1 L616.2 317.5 L631.0 323.9 L645.8 328.1 L662.8 331.3 L675.5 332.3" fill="none" stroke="#1c1c1c" stroke-width="0.55" stroke-linejoin="round"/>
<path d="M552.7 317.5 L551.6 327.0 L559.1 332.3 L567.5 337.6 L574.9 342.9 L581.3 350.3 L585.5 358.8 L592.9 363.0 L603.5 366.2 L612.0 373.6 L624.7 381.0 L637.4 387.4 L645.8 391.6" fill="none" stroke="#1c1c1c" stroke-width="0.55" stroke-linejoin="round"/>
<path d="M675.5 346.7 L662.8 344.0 L645.8 337.6 L631.0 330.2 L616.2 321.8 L601.4 312.2 L588.7 304.8 L580.2 304.8 L563.3 316.5 L571.8 324.9 L582.3 333.4 L595.0 341.9 L607.7 350.3 L620.4 357.7 L633.1 364.1 L645.8 368.3 L658.5 370.4 L675.5 371.5" fill="none" stroke="#1c1c1c" stroke-width="0.55" stroke-linejoin="round"/>
<path d="M575.6 328.1 L578.5 327.3 L581.5 329.4 L580.6 331.1 L577.3 330.6 Z" fill="none" stroke="#1c1c1c" stroke-width="0.55" stroke-linejoin="round"/>
<path d="M613.0 320.7 L624.7 326.0 L638.4 333.4 L636.3 334.9 L623.6 329.2 L614.1 322.8 Z" fill="none" stroke="#1c1c1c" stroke-width="0.55" stroke-linejoin="round"/>
<path d="M615.1 362.0 L624.7 363.0 L635.3 367.3 L633.1 369.4 L623.6 366.6 L617.3 364.1 Z" fill="none" stroke="#1c1c1c" stroke-width="0.55" stroke-linejoin="round"/>
<path d="M658.5 380.0 L667.0 378.9 L673.4 383.1 L672.3 389.5 L664.9 390.6 L659.6 385.3 Z" fill="none" stroke="#1c1c1c" stroke-width="0.55" stroke-linejoin="round"/>
<path d="M633.1 371.5 L645.8 374.7 L656.4 378.9 L657.5 387.4 L654.3 389.5" fill="none" stroke="#1c1c1c" stroke-width="0.55" stroke-linejoin="round"/>
<path d="M670.2 300.6 L673.4 309.1 L675.5 315.4" fill="none" stroke="#1c1c1c" stroke-width="0.55" stroke-linejoin="round"/>
<path d="M468.4 466.1 L477.1 459.2 L492.0 444.3 L504.4 435.6 L511.8 439.3 L523.0 435.6 L532.9 433.1 L536.6 440.6 L537.9 449.3 L542.8 454.2 L551.5 459.2 L557.7 465.4" fill="none" stroke="#6a6a6a" stroke-width="0.5" stroke-linejoin="round"/>
<path d="M523.0 435.6 L523.0 424.4 L518.0 418.2 L524.2 415.0 L534.1 416.5 L546.6 415.0 L547.8 409.6" fill="none" stroke="#6a6a6a" stroke-width="0.5" stroke-linejoin="round"/>
<path d="M540.0 463.1 L548.5 461.0 L556.9 460.6 L559.1 464.2 L567.5 463.6 L582.3 463.1 L603.5 462.1 L624.7 462.1 L645.8 461.4 L667.0 461.0 L675.5 460.6" fill="none" stroke="#6a6a6a" stroke-width="0.5" stroke-linejoin="round"/>
<path d="M667.0 417.6 L671.2 425.0 L675.5 431.4" fill="none" stroke="#555" stroke-width="0.5" stroke-linejoin="round"/>
<mask id="om" maskUnits="userSpaceOnUse" x="330" y="270" width="355" height="210"><rect x="330" y="270" width="355" height="210" fill="#000"/>
<path d="M345.3 319.0 L349.9 317.7 L355.2 318.3 L360.4 319.6 L361.8 318.3 L359.8 315.7 L356.5 314.4 L353.9 312.4 L349.9 311.7 L349.9 310.4 L353.9 309.8 L357.8 311.1 L360.4 309.8 L358.5 307.1 L355.8 305.8 L351.2 304.5 L350.6 302.5 L354.5 302.5 L353.9 299.2 L357.2 297.9 L359.1 300.5 L359.1 303.2 L361.8 304.5 L363.7 301.2 L367.0 301.2 L367.7 303.2 L365.7 305.2 L369.7 304.5 L374.3 303.2 L378.9 303.8 L383.5 302.5 L384.8 301.6 L386.1 303.8 L389.4 304.5 L394.7 303.2 L399.3 302.5 L400.0 304.5 L396.0 306.5 L394.0 307.8 L397.3 309.1 L400.6 307.8 L404.6 306.5 L407.9 305.2 L405.2 302.5 L403.3 301.9 L406.6 297.9 L411.8 298.6 L417.1 297.2 L422.4 295.9 L427.6 294.6 L432.0 292.6 L432.0 304.5 L427.6 307.1 L426.3 310.4 L422.4 311.7 L419.7 309.8 L415.8 311.7 L413.8 314.4 L410.5 315.7 L409.2 318.3 L407.9 321.6 L409.2 324.3 L410.5 326.9 L407.9 329.5 L405.9 332.2 L403.9 335.5 L401.3 336.8 L400.0 340.1 L399.3 344.0 L396.0 345.3 L393.4 344.7 L394.7 341.4 L394.0 338.1 L391.4 336.8 L388.1 335.5 L386.8 337.4 L382.8 338.1 L380.2 340.1 L376.9 341.4 L374.3 342.7 L372.3 340.7 L370.3 337.4 L367.7 335.5 L365.7 334.1 L363.7 329.5 L360.4 329.5 L356.5 330.8 L352.5 333.5 L351.9 331.5 L355.2 329.5 L352.5 328.9 L347.3 329.5 L346.6 328.2 L351.2 326.9 L355.2 325.6 L359.1 323.6 L361.1 321.6 L357.8 321.0 L352.5 320.3 L347.3 320.3 Z" fill="#fff"/>
<path d="M400.0 303.4 L404.0 302.1 L405.9 298.8 L410.5 297.5 L415.8 297.5 L421.1 295.5 L426.4 294.2 L431.6 292.9 L438.2 291.5 L443.5 290.2 L448.7 288.9 L454.0 287.6 L456.0 283.6 L458.0 282.6 L460.6 284.3 L463.9 283.9 L461.9 286.9 L459.3 288.9 L458.0 292.2 L458.6 294.8 L461.9 296.8 L465.9 297.5 L468.5 296.2 L471.8 296.8 L473.8 293.5 L477.7 292.2 L479.7 294.2 L479.1 297.5 L477.1 298.8 L479.1 301.4 L480.4 304.7 L484.3 306.0 L481.7 308.7 L479.1 310.0 L477.1 308.0 L473.8 310.6 L471.1 313.9 L473.1 317.2 L470.5 319.2 L467.9 319.9 L467.2 315.9 L464.6 314.6 L461.9 316.6 L459.3 313.9 L458.0 315.9 L455.3 318.5 L452.7 317.2 L452.0 314.6 L448.7 313.3 L444.8 313.9 L442.2 312.6 L444.1 309.3 L441.5 308.0 L438.2 309.3 L436.2 307.4 L433.6 306.0 L431.6 304.7 L428.3 306.7 L426.4 309.3 L425.0 312.6 L421.7 314.6 L418.4 317.2 L415.2 319.2 L412.5 321.2 L409.2 323.2 L407.2 325.8 L405.9 329.7 L402.6 333.7 L400.0 335.0 Z" fill="#fff"/>
<path d="M400.0 339.0 L404.0 336.3 L406.6 333.0 L409.2 329.7 L409.9 325.8 L413.2 325.1 L416.5 323.8 L419.1 327.1 L422.4 327.8 L427.7 328.4 L432.9 327.8 L437.5 329.1 L440.8 331.7 L444.1 335.0 L445.5 337.7 L448.7 339.0 L449.4 337.0 L452.7 334.4 L458.0 333.7 L461.9 331.7 L463.2 328.4 L465.9 326.5 L469.8 324.5 L473.8 321.8 L475.8 322.5 L475.1 325.1 L471.8 327.8 L472.5 330.4 L469.2 331.7 L465.9 333.0 L463.2 335.0 L459.9 336.3 L458.0 335.0 L455.3 336.3 L452.0 337.7 L449.4 339.6 L450.7 342.9 L454.0 342.3 L458.0 341.6 L461.9 342.9 L461.5 344.5 L458.9 347.8 L454.9 349.8 L453.6 352.4 L455.6 355.0 L456.9 358.3 L459.6 357.7 L462.2 356.4 L464.2 358.3 L463.5 362.3 L460.9 365.6 L458.2 368.2 L459.6 370.8 L462.2 372.2 L466.1 370.8 L470.1 369.5 L474.1 368.2 L478.0 366.9 L480.6 368.2 L485.0 368.2 L485.0 394.0 L460.9 394.0 L459.6 391.9 L457.6 389.3 L458.2 386.0 L456.9 382.7 L453.6 384.0 L453.0 386.7 L450.3 386.0 L447.7 388.6 L445.1 388.0 L446.4 384.7 L448.4 381.4 L451.7 380.1 L453.6 377.4 L452.3 374.1 L451.7 370.8 L450.3 367.5 L449.0 363.6 L447.7 361.0 L445.7 362.3 L441.8 362.9 L441.1 364.9 L438.5 364.3 L434.5 364.9 L431.2 366.9 L428.6 370.2 L426.0 371.5 L424.6 369.5 L426.0 365.6 L424.6 362.3 L426.0 359.6 L423.3 358.3 L421.4 355.7 L416.1 355.0 L414.8 353.1 L423.3 347.1 L420.0 348.4 L414.8 349.8 L409.5 351.7 L406.2 354.4 L402.2 355.7 L400.9 353.1 L402.9 350.4 L407.5 349.8 L412.1 346.5 L416.7 342.5 L413.4 343.2 L408.2 343.8 L404.2 345.2 L399.0 346.5 L395.0 345.8 L399.0 344.5 L400.3 341.9 L399.6 339.2 L402.9 336.6 L405.5 335.3 L406.9 331.3 Z" fill="#fff"/>
<path d="M487.4 329.6 L494.8 327.1 L502.3 330.9 L510.9 328.4 L515.9 324.7 L523.3 322.2 L532.0 320.9 L542.0 322.2 L548.2 325.4 L543.2 328.4 L534.5 327.1 L527.1 328.4 L520.9 332.1 L515.9 335.8 L517.1 342.0 L510.9 345.8 L504.7 344.5 L499.8 348.2 L493.6 345.8 L488.6 344.5 L492.3 339.6 L494.8 335.8 L489.9 333.3 Z" fill="#fff"/>
<path d="M527.1 301.8 L532.0 301.1 L535.0 303.6 L539.5 301.8 L539.0 304.8 L535.0 307.3 L534.0 311.8 L530.8 312.3 L529.6 307.8 L527.6 304.8 Z" fill="#fff"/>
<path d="M440.0 345.0 L461.9 345.0 L460.4 347.9 L456.1 348.6 L453.9 351.6 L455.3 355.2 L456.1 358.1 L459.0 358.9 L461.9 356.7 L464.1 358.1 L462.6 361.8 L459.7 364.0 L457.5 366.9 L459.0 370.5 L463.4 369.1 L468.5 367.6 L472.8 366.9 L475.8 368.4 L477.2 365.4 L478.0 361.8 L480.9 360.3 L478.7 358.1 L475.8 357.4 L476.5 354.5 L480.1 353.8 L485.3 355.2 L490.4 353.8 L494.0 351.6 L496.2 353.0 L494.7 355.9 L491.1 357.4 L488.2 358.9 L490.4 360.3 L496.2 358.9 L498.4 356.7 L501.3 356.4 L502.0 359.6 L502.8 361.8 L499.1 363.2 L495.5 364.7 L493.3 367.6 L496.2 369.1 L494.7 372.0 L491.8 374.9 L488.9 377.8 L485.3 380.8 L486.7 382.7 L491.1 381.5 L495.5 379.3 L501.3 380.0 L507.2 380.8 L511.5 379.3 L514.5 377.8 L518.8 376.4 L521.8 374.2 L523.2 371.3 L519.6 372.0 L515.9 371.3 L514.5 367.6 L517.4 365.4 L521.8 364.0 L527.6 363.2 L533.4 362.5 L540.0 363.2 L540.0 393.2 L536.4 395.4 L533.4 393.9 L535.6 390.3 L533.4 388.1 L529.1 387.3 L526.1 390.3 L523.9 393.2 L518.8 392.4 L514.5 393.9 L510.1 393.2 L506.4 393.9 L502.8 394.6 L498.4 395.4 L496.2 398.3 L494.7 401.2 L496.2 404.1 L493.3 404.9 L491.1 407.0 L492.6 410.0 L494.7 412.9 L495.5 415.9 L459.7 415.9 L459.0 412.9 L461.9 410.0 L467.0 408.5 L472.1 407.8 L476.5 406.3 L478.7 404.9 L473.6 404.9 L467.7 405.6 L463.4 403.4 L460.4 401.2 L457.5 403.4 L453.9 404.1 L448.8 403.4 L446.6 401.2 L450.2 399.7 L454.6 399.7 L456.8 397.6 L460.4 395.4 L459.0 391.7 L458.2 387.3 L456.1 384.4 L452.4 383.7 L448.8 385.9 L445.8 387.3 L445.1 385.1 L448.8 382.2 L453.1 380.0 L454.6 376.4 L453.9 372.7 L451.7 369.1 L450.2 365.4 L445.8 364.0 L440.0 364.7 Z" fill="#fff"/>
<path d="M475.8 415.8 L478.3 410.8 L492.0 403.3 L495.7 413.3 L493.2 418.2 L489.5 423.2 L487.0 426.9 L482.0 423.2 L477.1 420.7 Z" fill="#fff"/>
<path d="M520.0 365.4 L524.4 366.2 L528.8 364.0 L533.9 363.2 L539.0 364.7 L541.9 361.8 L540.4 358.9 L543.4 356.7 L547.0 359.6 L552.1 359.6 L558.0 358.9 L560.1 361.8 L563.8 364.0 L568.2 362.5 L573.3 362.5 L570.4 365.4 L565.3 368.4 L568.2 369.1 L572.6 371.3 L578.4 372.0 L581.3 369.1 L585.7 366.9 L587.2 361.8 L593.0 361.8 L598.8 364.0 L604.7 365.4 L609.1 369.8 L614.9 375.7 L620.0 379.3 L620.0 415.9 L563.8 415.9 L563.8 409.2 L558.7 409.2 L557.2 403.4 L558.0 399.0 L556.5 394.6 L548.5 394.6 L546.3 395.4 L543.4 399.0 L540.4 401.2 L537.5 397.6 L536.1 394.6 L528.8 395.4 L520.0 396.1 Z" fill="#fff"/>
<path d="M537.5 404.9 L541.9 403.4 L547.0 406.3 L549.2 409.2 L548.5 412.2 L541.9 412.2 L539.0 410.0 Z" fill="#fff"/>
<path d="M560.0 364.0 L575.0 371.0 L580.1 368.9 L583.8 363.0 L587.4 360.8 L591.0 362.3 L596.9 364.5 L603.5 367.4 L610.0 372.5 L617.3 377.6 L624.6 379.1 L631.2 382.0 L637.8 386.4 L643.6 391.5 L649.5 397.3 L654.6 401.7 L659.7 407.6 L664.1 412.7 L667.0 417.6 L663.8 419.7 L660.7 422.9 L661.7 431.4 L658.5 433.5 L655.4 431.4 L657.5 439.9 L654.3 444.1 L650.1 446.2 L644.8 447.3 L639.5 449.4 L634.2 451.5 L628.9 450.4 L623.6 451.5 L621.5 448.3 L626.8 446.2 L633.1 447.3 L636.3 442.0 L635.3 435.6 L637.4 431.4 L633.1 429.3 L636.3 422.9 L633.1 420.8 L628.9 425.0 L624.7 422.9 L621.5 428.2 L617.3 432.4 L614.1 437.7 L615.1 443.0 L618.3 446.2 L616.2 451.5 L613.0 453.6 L609.9 451.5 L603.5 451.5 L604.6 446.2 L603.5 439.9 L599.3 438.8 L594.0 435.6 L589.7 437.7 L585.5 435.6 L580.2 437.7 L573.9 438.8 L567.5 440.9 L563.3 439.9 L565.4 436.7 L561.2 434.6 L556.9 433.5 L559.1 430.3 L565.4 431.4 L568.6 428.2 L574.9 426.1 L581.3 426.1 L577.0 422.9 L571.8 420.8 L566.5 421.9 L561.2 419.7 L555.9 417.6 L551.6 415.5 L550.6 411.3 L553.8 407.0 L551.6 403.9 L546.4 401.8 L540.0 400.7 L540.0 382.7 Z" fill="#fff"/>
<path d="M469.6 455.5 L474.6 451.7 L478.3 448.0 L477.6 443.1 L480.8 439.3 L485.8 436.8 L486.5 441.8 L490.7 446.8 L493.2 451.7 L494.4 456.7 L490.7 459.2 L484.5 458.7 L479.6 459.7 L473.3 459.2 Z" fill="#fff"/>
<path d="M498.9 464.6 L501.9 463.2 L505.6 464.6 L505.6 466.1 L499.4 466.1 Z" fill="#fff"/>
<path d="M408.5 305.5 L412.5 304.2 L417.8 302.6 L420.8 303.7 L419.1 306.9 L415.8 309.5 L412.5 311.1 L410.5 309.8 L412.9 307.8 L410.5 306.9 Z" fill="#000"/>
<path d="M392.7 309.8 L397.3 310.4 L400.0 311.7 L397.3 313.5 L394.0 312.4 Z" fill="#000"/>
<path d="M393.4 317.0 L396.7 316.4 L397.1 317.9 L394.0 318.7 Z" fill="#000"/>
<path d="M440.2 294.8 L443.5 293.5 L446.1 294.2 L444.8 296.8 L442.2 298.8 L440.8 296.8 Z" fill="#000"/>
<path d="M437.5 302.1 L442.2 300.1 L446.8 299.4 L445.5 302.1 L440.8 304.1 L438.2 304.5 Z" fill="#000"/>
<path d="M452.0 300.8 L456.7 301.4 L460.6 303.4 L459.9 306.0 L456.0 306.7 L453.4 304.7 Z" fill="#000"/>
<path d="M460.6 306.7 L462.6 307.4 L461.9 310.0 L460.3 309.3 Z" fill="#000"/>
<path d="M411.2 306.7 L417.1 304.1 L419.8 303.4 L420.4 305.4 L416.5 308.0 L413.2 310.6 L410.5 309.3 Z" fill="#000"/>
<path d="M411.2 312.0 L414.5 310.6 L415.2 313.3 L412.5 315.3 Z" fill="#000"/>
<path d="M448.4 362.3 L451.7 359.6 L454.3 359.0 L453.6 361.6 L450.3 363.6 Z" fill="#000"/>
<path d="M464.8 374.8 L468.8 372.8 L471.4 374.8 L470.1 377.4 L466.8 376.8 Z" fill="#000"/>
<path d="M470.8 380.1 L474.1 379.4 L475.4 382.0 L472.7 382.7 Z" fill="#000"/>
<path d="M476.7 369.5 L479.3 368.2 L480.6 370.8 L478.0 372.2 Z" fill="#000"/>
<path d="M448.0 362.5 L450.9 359.6 L454.6 358.9 L453.9 361.8 L450.9 364.0 Z" fill="#000"/>
<path d="M473.6 369.1 L478.0 367.6 L480.1 369.8 L478.0 372.7 L475.0 372.0 Z" fill="#000"/>
<path d="M464.8 374.9 L468.5 372.7 L471.4 373.5 L469.9 376.4 L466.3 377.4 Z" fill="#000"/>
<path d="M459.7 373.5 L462.6 372.7 L461.9 375.7 L459.7 375.9 Z" fill="#000"/>
<path d="M486.0 370.5 L488.9 369.1 L490.4 372.0 L487.4 374.2 Z" fill="#000"/>
<path d="M471.4 380.0 L475.0 379.7 L476.5 382.2 L472.8 383.0 Z" fill="#000"/>
<path d="M500.6 384.4 L505.7 383.2 L507.9 385.1 L504.2 387.0 L501.3 386.6 Z" fill="#000"/>
<path d="M489.6 388.1 L492.6 387.3 L494.0 391.0 L491.1 392.4 Z" fill="#000"/>
<path d="M491.1 393.9 L494.7 393.2 L495.5 397.6 L492.6 399.0 Z" fill="#000"/>
<path d="M515.9 388.8 L521.8 387.3 L526.1 388.1 L524.7 391.7 L518.8 392.4 Z" fill="#000"/>
<path d="M518.8 383.7 L523.9 382.2 L529.1 381.5 L527.6 384.4 L521.8 385.6 Z" fill="#000"/>
<path d="M549.2 374.2 L555.0 372.7 L560.1 373.5 L563.8 369.1 L566.7 369.8 L563.1 376.4 L562.3 380.0 L559.4 381.5 L560.9 385.1 L558.7 388.8 L553.6 387.3 L549.2 388.1 L546.3 386.6 L551.4 384.4 L554.3 381.5 L552.8 377.8 L549.9 376.4 Z" fill="#000"/>
<path d="M565.3 378.6 L569.6 377.1 L574.0 376.4 L572.6 379.3 L568.2 380.8 Z" fill="#000"/>
<path d="M566.7 382.2 L571.1 380.8 L570.4 383.2 L567.4 384.1 Z" fill="#000"/>
<path d="M583.5 373.5 L587.2 372.0 L588.6 374.2 L585.0 375.7 Z" fill="#000"/>
<path d="M584.2 377.8 L587.9 376.4 L590.1 380.0 L587.2 382.2 L585.0 380.8 Z" fill="#000"/>
<path d="M536.1 392.4 L541.9 391.0 L545.5 391.7 L544.8 393.9 L539.0 394.3 Z" fill="#000"/>
<path d="M520.0 380.8 L526.6 380.0 L528.8 383.2 L522.9 384.4 L520.0 384.1 Z" fill="#000"/>
<path d="M520.0 388.8 L525.8 388.1 L526.6 391.7 L521.5 392.4 Z" fill="#000"/>
<path d="M541.9 366.9 L546.3 365.4 L547.0 369.1 L543.4 369.8 Z" fill="#000"/>
<path d="M558.7 402.7 L563.8 400.5 L568.2 401.2 L568.9 406.3 L562.3 407.0 L559.1 406.0 Z" fill="#000"/>
<path d="M567.4 409.2 L571.1 408.9 L571.1 412.2 L568.2 412.2 Z" fill="#000"/>
<path d="M574.7 407.8 L577.7 407.0 L577.7 410.0 L575.2 410.0 Z" fill="#000"/>
<path d="M546.4 375.3 L552.7 373.2 L559.1 376.4 L558.0 382.7 L552.7 386.9 L547.4 384.8 L549.5 379.5 Z" fill="#000"/>
<path d="M556.9 399.6 L564.3 398.6 L567.5 403.9 L561.2 408.1 L557.4 404.9 Z" fill="#000"/>
<path d="M560.1 415.5 L567.5 414.5 L571.8 417.6 L566.5 421.9 L561.2 420.8 Z" fill="#000"/>
<path d="M633.1 421.9 L639.5 419.7 L645.8 422.9 L643.7 429.3 L638.4 430.3 L639.5 425.5 Z" fill="#000"/>
<path d="M609.9 433.5 L614.1 431.4 L616.2 435.6 L612.0 437.7 Z" fill="#000"/>
<path d="M588.7 429.3 L592.9 428.2 L594.0 432.4 L589.7 433.5 Z" fill="#000"/>
<path d="M644.8 433.5 L650.1 432.4 L651.1 439.9 L646.9 442.0 Z" fill="#000"/>
<path d="M410.0 316.5 L412.6 317.0 L411.5 322.0 L412.8 326.0 L410.3 330.5 L407.8 334.0 L405.3 337.0 L402.8 340.5 L401.3 345.5 L398.7 345.0 L400.2 339.5 L402.7 336.0 L405.2 333.0 L407.7 329.5 L410.2 326.0 L408.7 322.0 Z" fill="#000"/>
</mask>
<g filter="url(#rough)"><rect x="330" y="270" width="355" height="210" fill="#ffcf75" mask="url(#om)"/></g>
<g filter="url(#rough3)">
<path d="M370.3 321.0 L372.3 317.0 L374.9 314.4 L379.5 313.7 L382.8 315.7 L386.1 317.0 L384.8 320.3 L381.5 322.9 L377.6 323.6 L374.3 321.6 L371.6 322.3 Z" fill="#12a37e"/>
<path d="M400.0 319.2 L403.9 317.9 L408.5 316.9 L408.9 317.9 L404.6 319.2 L400.6 320.3 Z" fill="#12a37e"/>
<path d="M423.7 297.9 L426.3 295.5 L429.6 295.3 L429.2 299.2 L427.0 301.6 L424.3 300.5 Z" fill="#12a37e"/>
<path d="M423.7 296.8 L426.4 294.8 L429.6 294.2 L431.6 293.5 L431.0 296.2 L428.3 297.5 L427.7 300.8 L425.0 301.4 L424.0 299.4 Z" fill="#12a37e"/>
<path d="M401.3 318.9 L407.9 316.8 L408.2 317.9 L401.8 320.0 Z" fill="#12a37e"/>
<path d="M423.3 347.1 L426.6 345.2 L429.9 343.8 L433.2 343.2 L435.2 346.5 L434.5 349.8 L436.5 351.7 L438.5 353.7 L437.8 356.4 L434.5 354.4 L430.6 353.7 L427.3 353.1 L424.6 355.0 L423.3 357.7 L421.4 356.4 L422.0 353.7 L418.1 354.4 L414.8 355.0 L414.1 353.7 L418.1 352.4 L422.7 351.1 L426.0 349.8 L423.3 349.1 Z" fill="#12a37e"/>
<path d="M471.4 388.8 L475.8 385.9 L480.9 385.1 L484.5 385.9 L483.8 389.5 L488.2 391.0 L486.7 393.9 L482.3 395.4 L478.0 394.6 L475.0 392.4 L472.8 391.0 Z" fill="#12a37e"/>
<path d="M529.1 379.3 L532.7 378.3 L536.4 378.9 L536.6 381.5 L533.4 382.7 L529.8 381.8 Z" fill="#12a37e"/>
<path d="M469.9 379.3 L474.3 380.0 L474.7 381.5 L470.7 381.2 Z" fill="#12a37e"/>
<path d="M504.2 391.4 L510.8 391.1 L510.9 392.3 L504.5 392.7 Z" fill="#12a37e"/>
<path d="M528.8 380.0 L531.7 377.8 L535.3 379.3 L536.1 382.2 L532.4 382.7 L529.5 382.2 Z" fill="#12a37e"/>
<path d="M476.6 417.5 L482.0 416.5 L488.2 419.5 L489.5 422.5 L483.3 423.4 L478.3 422.0 Z" fill="#12a37e"/>
<path d="M515.8 367.4 L518.8 366.9 L519.0 369.9 L516.3 370.3 Z" fill="#12a37e"/>
<path d="M523.7 365.9 L528.2 364.9 L528.7 367.9 L524.2 368.4 Z" fill="#12a37e"/>
<path d="M554.0 415.0 L557.0 414.5 L558.0 417.0 L555.2 418.0 Z" fill="#12a37e"/>
<path d="M571.4 431.4 L574.3 430.6 L575.3 433.4 L572.1 434.4 Z" fill="#12a37e"/>
<path d="M469.6 380.3 L476.6 379.3 L477.1 383.3 L470.6 383.7 Z" fill="#12a37e"/>
</g>
<g filter="url(#rough2)">
<path d="M591.1 398.8 L592.5 393.0 L595.4 388.6 L599.8 386.4 L602.7 382.0 L604.2 376.9 L607.8 373.2 L612.2 374.0 L615.9 377.6 L615.1 382.7 L618.8 384.9 L623.9 386.4 L626.1 390.8 L631.2 393.0 L629.7 397.3 L626.1 399.5 L623.2 403.2 L619.5 406.1 L615.1 410.5 L610.0 412.7 L606.4 416.3 L602.7 420.7 L599.1 423.6 L595.4 421.4 L594.0 417.0 L589.6 413.4 L588.9 407.6 L590.3 403.2 Z" fill="#12a37e"/>
</g>
<g mask="url(#om)"><g filter="url(#rough3)">
<rect x="367.8" y="311.1" width="1.3" height="1.3" fill="#12a37e"/>
<rect x="386.8" y="322.9" width="1.6" height="1.1" fill="#12a37e"/>
<rect x="394" y="326.9" width="1.3" height="1.1" fill="#12a37e"/>
<rect x="376.3" y="324.9" width="1.3" height="1.6" fill="#12a37e"/>
<rect x="402.6" y="328.2" width="1.1" height="1.1" fill="#12a37e"/>
<rect x="432.3" y="303.4" width="2.1" height="1.3" fill="#12a37e"/>
<rect x="446.8" y="306.7" width="1.8" height="1.3" fill="#12a37e"/>
<rect x="450.7" y="307.1" width="2.1" height="1.1" fill="#12a37e"/>
<rect x="466.9" y="302.7" width="2.9" height="2.6" fill="#12a37e"/>
<rect x="470.9" y="303.1" width="1.3" height="1.1" fill="#12a37e"/>
<rect x="467.6" y="313" width="2.1" height="1.6" fill="#12a37e"/>
<rect x="443.5" y="293.9" width="1.8" height="1.1" fill="#12a37e"/>
<rect x="415.5" y="310.6" width="1.1" height="1.1" fill="#12a37e"/>
<rect x="472.7" y="375.2" width="2.6" height="1.3" fill="#12a37e"/>
<rect x="407.5" y="339.9" width="1.6" height="1.1" fill="#12a37e"/>
<rect x="472.8" y="374.9" width="2.9" height="1.5" fill="#12a37e"/>
<rect x="496.9" y="359.6" width="3.5" height="1.5" fill="#12a37e"/>
<rect x="515.9" y="369.8" width="3.5" height="2" fill="#12a37e"/>
<rect x="522.5" y="366.9" width="2" height="1.5" fill="#12a37e"/>
<rect x="479.4" y="411.4" width="2" height="2" fill="#12a37e"/>
<rect x="536.4" y="404.9" width="3.6" height="4.4" fill="#12a37e"/>
<rect x="461.9" y="388.8" width="1.2" height="1.5" fill="#12a37e"/>
<rect x="522.9" y="366.9" width="2.9" height="2" fill="#12a37e"/>
<rect x="552.8" y="366.9" width="2" height="2.6" fill="#12a37e"/>
<rect x="563.1" y="383.7" width="2" height="2" fill="#12a37e"/>
<rect x="576.2" y="379.3" width="3.5" height="1.5" fill="#12a37e"/>
<rect x="537.5" y="405.6" width="2" height="2" fill="#12a37e"/>
<rect x="523.6" y="375.7" width="2" height="2" fill="#12a37e"/>
<rect x="593.7" y="374.2" width="2.3" height="1.5" fill="#12a37e"/>
<rect x="581.3" y="393.2" width="1.5" height="1.5" fill="#12a37e"/>
<rect x="585.7" y="400.5" width="1.2" height="1.2" fill="#12a37e"/>
<rect x="576.5" y="376.9" width="3.6" height="2.9" fill="#12a37e"/>
<rect x="583.8" y="371.1" width="1.8" height="1.5" fill="#12a37e"/>
<rect x="601.3" y="371.1" width="2.6" height="2.6" fill="#12a37e"/>
<rect x="594" y="374" width="2" height="1.5" fill="#12a37e"/>
<rect x="632.7" y="401.7" width="3.8" height="1.2" fill="#12a37e"/>
<rect x="579.4" y="391.5" width="1.5" height="1.5" fill="#12a37e"/>
<rect x="583.8" y="416.3" width="2.3" height="1.5" fill="#12a37e"/>
<rect x="621.7" y="422.2" width="2" height="2" fill="#12a37e"/>
<rect x="616.6" y="414.1" width="1.5" height="1.8" fill="#12a37e"/>
<rect x="637.8" y="395.1" width="1.2" height="1.2" fill="#12a37e"/>
<rect x="643.6" y="406.1" width="1.2" height="0.9" fill="#12a37e"/>
<rect x="585.9" y="409.7" width="1.8" height="1.2" fill="#12a37e"/>
<rect x="580.8" y="400.3" width="1.2" height="1.2" fill="#12a37e"/>
<rect x="631.9" y="390.8" width="1.5" height="1.2" fill="#12a37e"/>
<rect x="636.3" y="413.4" width="1.2" height="1.2" fill="#12a37e"/>
<rect x="571.8" y="431.4" width="4.2" height="3" fill="#12a37e"/>
<rect x="607.7" y="433.5" width="2.1" height="1.7" fill="#12a37e"/>
<rect x="592.9" y="439.9" width="2.5" height="1.7" fill="#12a37e"/>
<rect x="586.2" y="404.7" width="3" height="1.7" fill="#12a37e"/>
<rect x="584.4" y="398" width="1.6" height="1.8" fill="#12a37e"/>
<rect x="586.3" y="379.6" width="1.4" height="1.5" fill="#12a37e"/>
<rect x="633.1" y="413.7" width="2.6" height="1.1" fill="#12a37e"/>
<rect x="593.7" y="381.9" width="1.5" height="1" fill="#12a37e"/>
<rect x="601.1" y="398.1" width="1.6" height="1.4" fill="#12a37e"/>
<rect x="625.6" y="402.1" width="2.1" height="2.3" fill="#12a37e"/>
<rect x="582.9" y="396.4" width="2.2" height="2.1" fill="#12a37e"/>
<rect x="593.8" y="402.2" width="3.2" height="2.6" fill="#12a37e"/>
<rect x="602.1" y="408.9" width="1.8" height="1.1" fill="#12a37e"/>
<rect x="608.8" y="383.9" width="2.9" height="1.6" fill="#12a37e"/>
<rect x="618.7" y="399" width="3" height="1.8" fill="#12a37e"/>
<rect x="624" y="397.1" width="1.3" height="2" fill="#12a37e"/>
<rect x="609.4" y="387.3" width="1.4" height="1.5" fill="#12a37e"/>
<rect x="616.4" y="406.6" width="1.4" height="1.1" fill="#12a37e"/>
<rect x="610.1" y="390" width="2.3" height="1.7" fill="#12a37e"/>
<rect x="617" y="421.7" width="1.5" height="2" fill="#12a37e"/>
<rect x="620.2" y="409.5" width="1.6" height="1.4" fill="#12a37e"/>
<rect x="595.2" y="428.4" width="1.6" height="1.6" fill="#12a37e"/>
<rect x="648.4" y="425.6" width="1.6" height="1.4" fill="#12a37e"/>
<rect x="609.2" y="385.7" width="1.8" height="1.1" fill="#12a37e"/>
<rect x="626" y="409.6" width="1.7" height="2" fill="#12a37e"/>
<rect x="594.1" y="410.9" width="3.1" height="1.8" fill="#12a37e"/>
<rect x="576.6" y="385.4" width="1.6" height="1.2" fill="#12a37e"/>
<rect x="607" y="408.7" width="2.7" height="2.5" fill="#12a37e"/>
<rect x="620.7" y="433.7" width="3" height="2" fill="#12a37e"/>
<rect x="600" y="402.3" width="1.3" height="2.5" fill="#12a37e"/>
<rect x="608.9" y="422.4" width="1.7" height="2.3" fill="#12a37e"/>
<rect x="595.4" y="391.9" width="1.6" height="2.2" fill="#12a37e"/>
<rect x="618.1" y="403.5" width="2.3" height="2.4" fill="#12a37e"/>
<rect x="596.6" y="391" width="3" height="1.3" fill="#12a37e"/>
<rect x="620.4" y="400.2" width="2.1" height="1.1" fill="#12a37e"/>
<rect x="614.3" y="411.9" width="2.3" height="1.2" fill="#12a37e"/>
<rect x="583.8" y="423.1" width="3.2" height="2.1" fill="#12a37e"/>
<rect x="598.9" y="380.5" width="1.5" height="1.1" fill="#12a37e"/>
<rect x="631" y="401.8" width="2.2" height="2.2" fill="#12a37e"/>
<rect x="626" y="407.6" width="2.7" height="2.4" fill="#12a37e"/>
<rect x="591.6" y="417.3" width="3" height="2.4" fill="#12a37e"/>
<rect x="580.9" y="412.2" width="2.9" height="1.9" fill="#12a37e"/>
<rect x="595.2" y="388.6" width="2.4" height="2" fill="#12a37e"/>
<rect x="628.3" y="409.3" width="3.2" height="2.4" fill="#12a37e"/>
<rect x="604.7" y="384.3" width="2.7" height="1.9" fill="#12a37e"/>
<rect x="576.8" y="409.5" width="1.4" height="2.2" fill="#12a37e"/>
<rect x="629.7" y="402.8" width="2.2" height="1.4" fill="#12a37e"/>
<rect x="600.6" y="382.3" width="2.4" height="2.5" fill="#12a37e"/>
<rect x="606.9" y="401.3" width="1.8" height="2.1" fill="#12a37e"/>
<rect x="610" y="407.7" width="3" height="2.1" fill="#12a37e"/>
<rect x="573.5" y="410.3" width="1.9" height="2.1" fill="#12a37e"/>
<rect x="612.7" y="414.1" width="2.8" height="2.5" fill="#12a37e"/>
<rect x="594.1" y="392.5" width="1.5" height="1.8" fill="#12a37e"/>
<rect x="605.3" y="408" width="2.1" height="1.4" fill="#12a37e"/>
<rect x="610.9" y="414.1" width="2.5" height="1.8" fill="#12a37e"/>
<rect x="594" y="425.3" width="3.2" height="1.7" fill="#12a37e"/>
<rect x="610.8" y="400.7" width="2.9" height="1.1" fill="#12a37e"/>
<rect x="601.3" y="380.2" width="1.8" height="2.3" fill="#12a37e"/>
<rect x="616.1" y="400" width="2.1" height="1" fill="#12a37e"/>
<rect x="613" y="389.3" width="1.5" height="1.1" fill="#12a37e"/>
<rect x="594.3" y="387.2" width="2.5" height="2" fill="#12a37e"/>
<rect x="602.5" y="389.8" width="2.2" height="1.3" fill="#12a37e"/>
<rect x="626.2" y="400.1" width="2.6" height="1.3" fill="#12a37e"/>
<rect x="604.8" y="412.7" width="2.6" height="1.8" fill="#12a37e"/>
<rect x="585.5" y="382.4" width="2" height="2.3" fill="#12a37e"/>
<rect x="613" y="395.4" width="3.1" height="2.2" fill="#12a37e"/>
<rect x="619.8" y="411" width="2.5" height="2.5" fill="#12a37e"/>
<rect x="591.2" y="412.6" width="3" height="2.3" fill="#12a37e"/>
<rect x="600.3" y="390.7" width="2.6" height="2.3" fill="#12a37e"/>
<rect x="590" y="380.5" width="1.6" height="2.4" fill="#12a37e"/>
<rect x="577.7" y="392.9" width="1.8" height="2.5" fill="#12a37e"/>
<rect x="616.7" y="388.1" width="1.4" height="1.7" fill="#12a37e"/>
<rect x="579.4" y="391" width="2.2" height="1" fill="#12a37e"/>
<rect x="609.2" y="393.9" width="2.8" height="1.3" fill="#12a37e"/>
<rect x="591.8" y="421.7" width="1.5" height="1.2" fill="#12a37e"/>
</g></g>
</g>
<rect x="341.5" y="280.5" width="334" height="186" fill="none" stroke="#4a4a4a" stroke-width="1"/>
<g stroke="#333" stroke-width="0.8">
<line x1="386" y1="466.5" x2="386" y2="469.8"/>
<line x1="462" y1="466.5" x2="462" y2="469.8"/>
<line x1="538.5" y1="466.5" x2="538.5" y2="469.8"/>
<line x1="614.5" y1="466.5" x2="614.5" y2="469.8"/>
<line x1="338" y1="285.2" x2="341.5" y2="285.2"/>
<line x1="338" y1="361.5" x2="341.5" y2="361.5"/>
<line x1="338" y1="437.7" x2="341.5" y2="437.7"/>
<line x1="341.5" y1="323.3" x2="343.4" y2="323.3"/>
<line x1="341.5" y1="399.6" x2="343.4" y2="399.6"/>
</g>
<text x="386" y="481.3" font-size="10" text-anchor="middle">120°E</text>
<text x="462" y="481.3" font-size="10" text-anchor="middle">120°30′E</text>
<text x="538.5" y="481.3" font-size="10" text-anchor="middle">121°E</text>
<text x="614.5" y="481.3" font-size="10" text-anchor="middle">121°30′E</text>
<text transform="translate(333.4 285.2) rotate(-90)" font-size="10" text-anchor="middle">32°N</text>
<text transform="translate(333.4 361.5) rotate(-90)" font-size="10" text-anchor="middle">31°30′N</text>
<text transform="translate(333.4 437.7) rotate(-90)" font-size="10" text-anchor="middle">31°N</text>
<text x="517.6" y="294.9" font-size="11.2" font-weight="bold" fill="#000" textLength="142" lengthAdjust="spacingAndGlyphs">Yangtze River Delta (YRD)</text>
<text x="371.8" y="336.6" font-size="11.2" font-weight="bold" fill="#000" textLength="15" lengthAdjust="spacingAndGlyphs">CZ</text>
<text x="423.9" y="342" font-size="11.2" font-weight="bold" fill="#000" textLength="17.4" lengthAdjust="spacingAndGlyphs">WX</text>
<text x="462.7" y="404.6" font-size="11.2" font-weight="bold" fill="#000" textLength="21.4" lengthAdjust="spacingAndGlyphs">SuZ</text>
<text x="622.1" y="413" font-size="11.2" font-weight="bold" fill="#000" textLength="15.4" lengthAdjust="spacingAndGlyphs">SH</text>
<path d="M350.6 409.6 L353.4 409.6 L353.4 407.3 L358.2 407.3 L358.2 404.6 L365.6 404.6 L365.6 411.9 L360.8 411.9 L360.8 416.7 L355.6 416.7 L355.6 414.4 L350.6 414.4 Z" fill="#ffcf75" stroke="#8a8a8a" stroke-width="0.5"/>
<path d="M350.6 426.6 L353.4 426.6 L353.4 424.3 L358.2 424.3 L358.2 421.6 L365.6 421.6 L365.6 428.9 L360.8 428.9 L360.8 433.7 L355.6 433.7 L355.6 431.4 L350.6 431.4 Z" fill="#12a37e" stroke="#8a8a8a" stroke-width="0.5"/>
<text x="372.6" y="413" font-size="10.4">BUA</text>
<text x="372.6" y="430.1" font-size="10.4" textLength="66.4" lengthAdjust="spacingAndGlyphs">Greening BUA</text>
<text x="346.6" y="454.8" font-size="10.2" text-anchor="middle">0</text>
<text x="380.7" y="454.8" font-size="10.2" text-anchor="middle">25</text>
<text x="414.9" y="454.8" font-size="10.2" text-anchor="middle">50</text>
<rect x="346" y="459.6" width="68.9" height="4.6" fill="#fff" stroke="#111" stroke-width="0.7"/>
<rect x="346" y="459.6" width="34.6" height="4.6" fill="#000"/>
<text x="417.7" y="463.7" font-size="10.2">Kilometers</text>
<text x="314.8" y="284" font-size="13.5" font-weight="bold" fill="#000">c</text>
</g>
</svg></body></html>
